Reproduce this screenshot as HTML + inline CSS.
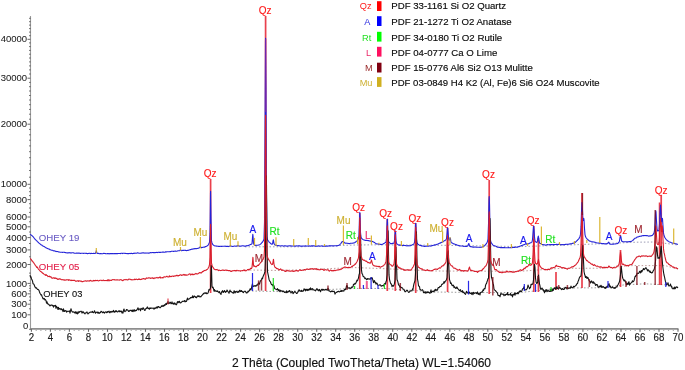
<!DOCTYPE html>
<html><head><meta charset="utf-8"><style>
html,body{margin:0;padding:0;background:#fff;width:685px;height:370px;overflow:hidden}
svg{display:block;will-change:transform}
</style></head><body>
<svg width="685" height="370" viewBox="0 0 685 370">
<g fill="none">
<line x1="30.5" y1="16" x2="30.5" y2="329" stroke="#9a9a9a" stroke-width="1.1"/>
<line x1="30" y1="328.9" x2="678.5" y2="328.9" stroke="#8e8e8e" stroke-width="1.7"/>
<line x1="31.4" y1="329" x2="31.4" y2="331.8" stroke="#6a6a6a" stroke-width="1.1"/>
<line x1="36.2" y1="329" x2="36.2" y2="330.9" stroke="#a8a8a8" stroke-width="1.1"/>
<line x1="40.9" y1="329" x2="40.9" y2="330.9" stroke="#a8a8a8" stroke-width="1.1"/>
<line x1="45.7" y1="329" x2="45.7" y2="330.9" stroke="#a8a8a8" stroke-width="1.1"/>
<line x1="50.4" y1="329" x2="50.4" y2="331.8" stroke="#6a6a6a" stroke-width="1.1"/>
<line x1="55.2" y1="329" x2="55.2" y2="330.9" stroke="#a8a8a8" stroke-width="1.1"/>
<line x1="59.9" y1="329" x2="59.9" y2="330.9" stroke="#a8a8a8" stroke-width="1.1"/>
<line x1="64.7" y1="329" x2="64.7" y2="330.9" stroke="#a8a8a8" stroke-width="1.1"/>
<line x1="69.4" y1="329" x2="69.4" y2="331.8" stroke="#6a6a6a" stroke-width="1.1"/>
<line x1="74.2" y1="329" x2="74.2" y2="330.9" stroke="#a8a8a8" stroke-width="1.1"/>
<line x1="78.9" y1="329" x2="78.9" y2="330.9" stroke="#a8a8a8" stroke-width="1.1"/>
<line x1="83.7" y1="329" x2="83.7" y2="330.9" stroke="#a8a8a8" stroke-width="1.1"/>
<line x1="88.5" y1="329" x2="88.5" y2="331.8" stroke="#6a6a6a" stroke-width="1.1"/>
<line x1="93.2" y1="329" x2="93.2" y2="330.9" stroke="#a8a8a8" stroke-width="1.1"/>
<line x1="98.0" y1="329" x2="98.0" y2="330.9" stroke="#a8a8a8" stroke-width="1.1"/>
<line x1="102.7" y1="329" x2="102.7" y2="330.9" stroke="#a8a8a8" stroke-width="1.1"/>
<line x1="107.5" y1="329" x2="107.5" y2="331.8" stroke="#6a6a6a" stroke-width="1.1"/>
<line x1="112.2" y1="329" x2="112.2" y2="330.9" stroke="#a8a8a8" stroke-width="1.1"/>
<line x1="117.0" y1="329" x2="117.0" y2="330.9" stroke="#a8a8a8" stroke-width="1.1"/>
<line x1="121.7" y1="329" x2="121.7" y2="330.9" stroke="#a8a8a8" stroke-width="1.1"/>
<line x1="126.5" y1="329" x2="126.5" y2="331.8" stroke="#6a6a6a" stroke-width="1.1"/>
<line x1="131.2" y1="329" x2="131.2" y2="330.9" stroke="#a8a8a8" stroke-width="1.1"/>
<line x1="136.0" y1="329" x2="136.0" y2="330.9" stroke="#a8a8a8" stroke-width="1.1"/>
<line x1="140.8" y1="329" x2="140.8" y2="330.9" stroke="#a8a8a8" stroke-width="1.1"/>
<line x1="145.5" y1="329" x2="145.5" y2="331.8" stroke="#6a6a6a" stroke-width="1.1"/>
<line x1="150.3" y1="329" x2="150.3" y2="330.9" stroke="#a8a8a8" stroke-width="1.1"/>
<line x1="155.0" y1="329" x2="155.0" y2="330.9" stroke="#a8a8a8" stroke-width="1.1"/>
<line x1="159.8" y1="329" x2="159.8" y2="330.9" stroke="#a8a8a8" stroke-width="1.1"/>
<line x1="164.5" y1="329" x2="164.5" y2="331.8" stroke="#6a6a6a" stroke-width="1.1"/>
<line x1="169.3" y1="329" x2="169.3" y2="330.9" stroke="#a8a8a8" stroke-width="1.1"/>
<line x1="174.0" y1="329" x2="174.0" y2="330.9" stroke="#a8a8a8" stroke-width="1.1"/>
<line x1="178.8" y1="329" x2="178.8" y2="330.9" stroke="#a8a8a8" stroke-width="1.1"/>
<line x1="183.5" y1="329" x2="183.5" y2="331.8" stroke="#6a6a6a" stroke-width="1.1"/>
<line x1="188.3" y1="329" x2="188.3" y2="330.9" stroke="#a8a8a8" stroke-width="1.1"/>
<line x1="193.1" y1="329" x2="193.1" y2="330.9" stroke="#a8a8a8" stroke-width="1.1"/>
<line x1="197.8" y1="329" x2="197.8" y2="330.9" stroke="#a8a8a8" stroke-width="1.1"/>
<line x1="202.6" y1="329" x2="202.6" y2="331.8" stroke="#6a6a6a" stroke-width="1.1"/>
<line x1="207.3" y1="329" x2="207.3" y2="330.9" stroke="#a8a8a8" stroke-width="1.1"/>
<line x1="212.1" y1="329" x2="212.1" y2="330.9" stroke="#a8a8a8" stroke-width="1.1"/>
<line x1="216.8" y1="329" x2="216.8" y2="330.9" stroke="#a8a8a8" stroke-width="1.1"/>
<line x1="221.6" y1="329" x2="221.6" y2="331.8" stroke="#6a6a6a" stroke-width="1.1"/>
<line x1="226.3" y1="329" x2="226.3" y2="330.9" stroke="#a8a8a8" stroke-width="1.1"/>
<line x1="231.1" y1="329" x2="231.1" y2="330.9" stroke="#a8a8a8" stroke-width="1.1"/>
<line x1="235.8" y1="329" x2="235.8" y2="330.9" stroke="#a8a8a8" stroke-width="1.1"/>
<line x1="240.6" y1="329" x2="240.6" y2="331.8" stroke="#6a6a6a" stroke-width="1.1"/>
<line x1="245.4" y1="329" x2="245.4" y2="330.9" stroke="#a8a8a8" stroke-width="1.1"/>
<line x1="250.1" y1="329" x2="250.1" y2="330.9" stroke="#a8a8a8" stroke-width="1.1"/>
<line x1="254.9" y1="329" x2="254.9" y2="330.9" stroke="#a8a8a8" stroke-width="1.1"/>
<line x1="259.6" y1="329" x2="259.6" y2="331.8" stroke="#6a6a6a" stroke-width="1.1"/>
<line x1="264.4" y1="329" x2="264.4" y2="330.9" stroke="#a8a8a8" stroke-width="1.1"/>
<line x1="269.1" y1="329" x2="269.1" y2="330.9" stroke="#a8a8a8" stroke-width="1.1"/>
<line x1="273.9" y1="329" x2="273.9" y2="330.9" stroke="#a8a8a8" stroke-width="1.1"/>
<line x1="278.6" y1="329" x2="278.6" y2="331.8" stroke="#6a6a6a" stroke-width="1.1"/>
<line x1="283.4" y1="329" x2="283.4" y2="330.9" stroke="#a8a8a8" stroke-width="1.1"/>
<line x1="288.1" y1="329" x2="288.1" y2="330.9" stroke="#a8a8a8" stroke-width="1.1"/>
<line x1="292.9" y1="329" x2="292.9" y2="330.9" stroke="#a8a8a8" stroke-width="1.1"/>
<line x1="297.7" y1="329" x2="297.7" y2="331.8" stroke="#6a6a6a" stroke-width="1.1"/>
<line x1="302.4" y1="329" x2="302.4" y2="330.9" stroke="#a8a8a8" stroke-width="1.1"/>
<line x1="307.2" y1="329" x2="307.2" y2="330.9" stroke="#a8a8a8" stroke-width="1.1"/>
<line x1="311.9" y1="329" x2="311.9" y2="330.9" stroke="#a8a8a8" stroke-width="1.1"/>
<line x1="316.7" y1="329" x2="316.7" y2="331.8" stroke="#6a6a6a" stroke-width="1.1"/>
<line x1="321.4" y1="329" x2="321.4" y2="330.9" stroke="#a8a8a8" stroke-width="1.1"/>
<line x1="326.2" y1="329" x2="326.2" y2="330.9" stroke="#a8a8a8" stroke-width="1.1"/>
<line x1="330.9" y1="329" x2="330.9" y2="330.9" stroke="#a8a8a8" stroke-width="1.1"/>
<line x1="335.7" y1="329" x2="335.7" y2="331.8" stroke="#6a6a6a" stroke-width="1.1"/>
<line x1="340.4" y1="329" x2="340.4" y2="330.9" stroke="#a8a8a8" stroke-width="1.1"/>
<line x1="345.2" y1="329" x2="345.2" y2="330.9" stroke="#a8a8a8" stroke-width="1.1"/>
<line x1="350.0" y1="329" x2="350.0" y2="330.9" stroke="#a8a8a8" stroke-width="1.1"/>
<line x1="354.7" y1="329" x2="354.7" y2="331.8" stroke="#6a6a6a" stroke-width="1.1"/>
<line x1="359.5" y1="329" x2="359.5" y2="330.9" stroke="#a8a8a8" stroke-width="1.1"/>
<line x1="364.2" y1="329" x2="364.2" y2="330.9" stroke="#a8a8a8" stroke-width="1.1"/>
<line x1="369.0" y1="329" x2="369.0" y2="330.9" stroke="#a8a8a8" stroke-width="1.1"/>
<line x1="373.7" y1="329" x2="373.7" y2="331.8" stroke="#6a6a6a" stroke-width="1.1"/>
<line x1="378.5" y1="329" x2="378.5" y2="330.9" stroke="#a8a8a8" stroke-width="1.1"/>
<line x1="383.2" y1="329" x2="383.2" y2="330.9" stroke="#a8a8a8" stroke-width="1.1"/>
<line x1="388.0" y1="329" x2="388.0" y2="330.9" stroke="#a8a8a8" stroke-width="1.1"/>
<line x1="392.7" y1="329" x2="392.7" y2="331.8" stroke="#6a6a6a" stroke-width="1.1"/>
<line x1="397.5" y1="329" x2="397.5" y2="330.9" stroke="#a8a8a8" stroke-width="1.1"/>
<line x1="402.3" y1="329" x2="402.3" y2="330.9" stroke="#a8a8a8" stroke-width="1.1"/>
<line x1="407.0" y1="329" x2="407.0" y2="330.9" stroke="#a8a8a8" stroke-width="1.1"/>
<line x1="411.8" y1="329" x2="411.8" y2="331.8" stroke="#6a6a6a" stroke-width="1.1"/>
<line x1="416.5" y1="329" x2="416.5" y2="330.9" stroke="#a8a8a8" stroke-width="1.1"/>
<line x1="421.3" y1="329" x2="421.3" y2="330.9" stroke="#a8a8a8" stroke-width="1.1"/>
<line x1="426.0" y1="329" x2="426.0" y2="330.9" stroke="#a8a8a8" stroke-width="1.1"/>
<line x1="430.8" y1="329" x2="430.8" y2="331.8" stroke="#6a6a6a" stroke-width="1.1"/>
<line x1="435.5" y1="329" x2="435.5" y2="330.9" stroke="#a8a8a8" stroke-width="1.1"/>
<line x1="440.3" y1="329" x2="440.3" y2="330.9" stroke="#a8a8a8" stroke-width="1.1"/>
<line x1="445.0" y1="329" x2="445.0" y2="330.9" stroke="#a8a8a8" stroke-width="1.1"/>
<line x1="449.8" y1="329" x2="449.8" y2="331.8" stroke="#6a6a6a" stroke-width="1.1"/>
<line x1="454.6" y1="329" x2="454.6" y2="330.9" stroke="#a8a8a8" stroke-width="1.1"/>
<line x1="459.3" y1="329" x2="459.3" y2="330.9" stroke="#a8a8a8" stroke-width="1.1"/>
<line x1="464.1" y1="329" x2="464.1" y2="330.9" stroke="#a8a8a8" stroke-width="1.1"/>
<line x1="468.8" y1="329" x2="468.8" y2="331.8" stroke="#6a6a6a" stroke-width="1.1"/>
<line x1="473.6" y1="329" x2="473.6" y2="330.9" stroke="#a8a8a8" stroke-width="1.1"/>
<line x1="478.3" y1="329" x2="478.3" y2="330.9" stroke="#a8a8a8" stroke-width="1.1"/>
<line x1="483.1" y1="329" x2="483.1" y2="330.9" stroke="#a8a8a8" stroke-width="1.1"/>
<line x1="487.8" y1="329" x2="487.8" y2="331.8" stroke="#6a6a6a" stroke-width="1.1"/>
<line x1="492.6" y1="329" x2="492.6" y2="330.9" stroke="#a8a8a8" stroke-width="1.1"/>
<line x1="497.3" y1="329" x2="497.3" y2="330.9" stroke="#a8a8a8" stroke-width="1.1"/>
<line x1="502.1" y1="329" x2="502.1" y2="330.9" stroke="#a8a8a8" stroke-width="1.1"/>
<line x1="506.9" y1="329" x2="506.9" y2="331.8" stroke="#6a6a6a" stroke-width="1.1"/>
<line x1="511.6" y1="329" x2="511.6" y2="330.9" stroke="#a8a8a8" stroke-width="1.1"/>
<line x1="516.4" y1="329" x2="516.4" y2="330.9" stroke="#a8a8a8" stroke-width="1.1"/>
<line x1="521.1" y1="329" x2="521.1" y2="330.9" stroke="#a8a8a8" stroke-width="1.1"/>
<line x1="525.9" y1="329" x2="525.9" y2="331.8" stroke="#6a6a6a" stroke-width="1.1"/>
<line x1="530.6" y1="329" x2="530.6" y2="330.9" stroke="#a8a8a8" stroke-width="1.1"/>
<line x1="535.4" y1="329" x2="535.4" y2="330.9" stroke="#a8a8a8" stroke-width="1.1"/>
<line x1="540.1" y1="329" x2="540.1" y2="330.9" stroke="#a8a8a8" stroke-width="1.1"/>
<line x1="544.9" y1="329" x2="544.9" y2="331.8" stroke="#6a6a6a" stroke-width="1.1"/>
<line x1="549.6" y1="329" x2="549.6" y2="330.9" stroke="#a8a8a8" stroke-width="1.1"/>
<line x1="554.4" y1="329" x2="554.4" y2="330.9" stroke="#a8a8a8" stroke-width="1.1"/>
<line x1="559.1" y1="329" x2="559.1" y2="330.9" stroke="#a8a8a8" stroke-width="1.1"/>
<line x1="563.9" y1="329" x2="563.9" y2="331.8" stroke="#6a6a6a" stroke-width="1.1"/>
<line x1="568.7" y1="329" x2="568.7" y2="330.9" stroke="#a8a8a8" stroke-width="1.1"/>
<line x1="573.4" y1="329" x2="573.4" y2="330.9" stroke="#a8a8a8" stroke-width="1.1"/>
<line x1="578.2" y1="329" x2="578.2" y2="330.9" stroke="#a8a8a8" stroke-width="1.1"/>
<line x1="582.9" y1="329" x2="582.9" y2="331.8" stroke="#6a6a6a" stroke-width="1.1"/>
<line x1="587.7" y1="329" x2="587.7" y2="330.9" stroke="#a8a8a8" stroke-width="1.1"/>
<line x1="592.4" y1="329" x2="592.4" y2="330.9" stroke="#a8a8a8" stroke-width="1.1"/>
<line x1="597.2" y1="329" x2="597.2" y2="330.9" stroke="#a8a8a8" stroke-width="1.1"/>
<line x1="601.9" y1="329" x2="601.9" y2="331.8" stroke="#6a6a6a" stroke-width="1.1"/>
<line x1="606.7" y1="329" x2="606.7" y2="330.9" stroke="#a8a8a8" stroke-width="1.1"/>
<line x1="611.4" y1="329" x2="611.4" y2="330.9" stroke="#a8a8a8" stroke-width="1.1"/>
<line x1="616.2" y1="329" x2="616.2" y2="330.9" stroke="#a8a8a8" stroke-width="1.1"/>
<line x1="621.0" y1="329" x2="621.0" y2="331.8" stroke="#6a6a6a" stroke-width="1.1"/>
<line x1="625.7" y1="329" x2="625.7" y2="330.9" stroke="#a8a8a8" stroke-width="1.1"/>
<line x1="630.5" y1="329" x2="630.5" y2="330.9" stroke="#a8a8a8" stroke-width="1.1"/>
<line x1="635.2" y1="329" x2="635.2" y2="330.9" stroke="#a8a8a8" stroke-width="1.1"/>
<line x1="640.0" y1="329" x2="640.0" y2="331.8" stroke="#6a6a6a" stroke-width="1.1"/>
<line x1="644.7" y1="329" x2="644.7" y2="330.9" stroke="#a8a8a8" stroke-width="1.1"/>
<line x1="649.5" y1="329" x2="649.5" y2="330.9" stroke="#a8a8a8" stroke-width="1.1"/>
<line x1="654.2" y1="329" x2="654.2" y2="330.9" stroke="#a8a8a8" stroke-width="1.1"/>
<line x1="659.0" y1="329" x2="659.0" y2="331.8" stroke="#6a6a6a" stroke-width="1.1"/>
<line x1="663.7" y1="329" x2="663.7" y2="330.9" stroke="#a8a8a8" stroke-width="1.1"/>
<line x1="668.5" y1="329" x2="668.5" y2="330.9" stroke="#a8a8a8" stroke-width="1.1"/>
<line x1="673.3" y1="329" x2="673.3" y2="330.9" stroke="#a8a8a8" stroke-width="1.1"/>
<line x1="678.0" y1="329" x2="678.0" y2="331.8" stroke="#6a6a6a" stroke-width="1.1"/>
<line x1="27.5" y1="314.8" x2="30.5" y2="314.8" stroke="#6a6a6a" stroke-width="1"/>
<line x1="27.5" y1="304.2" x2="30.5" y2="304.2" stroke="#6a6a6a" stroke-width="1"/>
<line x1="27.5" y1="293.8" x2="30.5" y2="293.8" stroke="#6a6a6a" stroke-width="1"/>
<line x1="27.5" y1="283.4" x2="30.5" y2="283.4" stroke="#6a6a6a" stroke-width="1"/>
<line x1="27.5" y1="264.5" x2="30.5" y2="264.5" stroke="#6a6a6a" stroke-width="1"/>
<line x1="27.5" y1="249.9" x2="30.5" y2="249.9" stroke="#6a6a6a" stroke-width="1"/>
<line x1="27.5" y1="237.6" x2="30.5" y2="237.6" stroke="#6a6a6a" stroke-width="1"/>
<line x1="27.5" y1="226.8" x2="30.5" y2="226.8" stroke="#6a6a6a" stroke-width="1"/>
<line x1="27.5" y1="217.0" x2="30.5" y2="217.0" stroke="#6a6a6a" stroke-width="1"/>
<line x1="27.5" y1="199.6" x2="30.5" y2="199.6" stroke="#6a6a6a" stroke-width="1"/>
<line x1="27.5" y1="184.3" x2="30.5" y2="184.3" stroke="#6a6a6a" stroke-width="1"/>
<line x1="27.5" y1="124.2" x2="30.5" y2="124.2" stroke="#6a6a6a" stroke-width="1"/>
<line x1="27.5" y1="78.2" x2="30.5" y2="78.2" stroke="#6a6a6a" stroke-width="1"/>
<line x1="27.5" y1="39.3" x2="30.5" y2="39.3" stroke="#6a6a6a" stroke-width="1"/>
<line x1="29.2" y1="329.3" x2="30.6" y2="329.3" stroke="#555" stroke-width="1"/>
<line x1="29.2" y1="308.8" x2="30.6" y2="308.8" stroke="#555" stroke-width="1"/>
<line x1="29.2" y1="300.3" x2="30.6" y2="300.3" stroke="#555" stroke-width="1"/>
<line x1="29.2" y1="296.9" x2="30.6" y2="296.9" stroke="#555" stroke-width="1"/>
<line x1="29.2" y1="290.9" x2="30.6" y2="290.9" stroke="#555" stroke-width="1"/>
<line x1="29.2" y1="288.3" x2="30.6" y2="288.3" stroke="#555" stroke-width="1"/>
<line x1="29.2" y1="285.8" x2="30.6" y2="285.8" stroke="#555" stroke-width="1"/>
<line x1="29.2" y1="273.1" x2="30.6" y2="273.1" stroke="#555" stroke-width="1"/>
<line x1="29.2" y1="256.8" x2="30.6" y2="256.8" stroke="#555" stroke-width="1"/>
<line x1="29.2" y1="243.5" x2="30.6" y2="243.5" stroke="#555" stroke-width="1"/>
<line x1="29.2" y1="232.0" x2="30.6" y2="232.0" stroke="#555" stroke-width="1"/>
<line x1="29.2" y1="221.8" x2="30.6" y2="221.8" stroke="#555" stroke-width="1"/>
<line x1="29.2" y1="212.4" x2="30.6" y2="212.4" stroke="#555" stroke-width="1"/>
<line x1="29.2" y1="208.0" x2="30.6" y2="208.0" stroke="#555" stroke-width="1"/>
<line x1="29.2" y1="203.7" x2="30.6" y2="203.7" stroke="#555" stroke-width="1"/>
<line x1="29.2" y1="195.6" x2="30.6" y2="195.6" stroke="#555" stroke-width="1"/>
<line x1="29.2" y1="191.7" x2="30.6" y2="191.7" stroke="#555" stroke-width="1"/>
<line x1="29.2" y1="188.0" x2="30.6" y2="188.0" stroke="#555" stroke-width="1"/>
<line x1="29.2" y1="177.2" x2="30.6" y2="177.2" stroke="#555" stroke-width="1"/>
<line x1="29.2" y1="170.5" x2="30.6" y2="170.5" stroke="#555" stroke-width="1"/>
<line x1="29.2" y1="164.0" x2="30.6" y2="164.0" stroke="#555" stroke-width="1"/>
<line x1="29.2" y1="157.7" x2="30.6" y2="157.7" stroke="#555" stroke-width="1"/>
<line x1="29.2" y1="151.7" x2="30.6" y2="151.7" stroke="#555" stroke-width="1"/>
<line x1="29.2" y1="145.9" x2="30.6" y2="145.9" stroke="#555" stroke-width="1"/>
<line x1="29.2" y1="140.2" x2="30.6" y2="140.2" stroke="#555" stroke-width="1"/>
<line x1="29.2" y1="134.8" x2="30.6" y2="134.8" stroke="#555" stroke-width="1"/>
<line x1="29.2" y1="129.4" x2="30.6" y2="129.4" stroke="#555" stroke-width="1"/>
<line x1="29.2" y1="119.2" x2="30.6" y2="119.2" stroke="#555" stroke-width="1"/>
<line x1="29.2" y1="114.2" x2="30.6" y2="114.2" stroke="#555" stroke-width="1"/>
<line x1="29.2" y1="109.4" x2="30.6" y2="109.4" stroke="#555" stroke-width="1"/>
<line x1="29.2" y1="104.7" x2="30.6" y2="104.7" stroke="#555" stroke-width="1"/>
<line x1="29.2" y1="100.0" x2="30.6" y2="100.0" stroke="#555" stroke-width="1"/>
<line x1="29.2" y1="95.5" x2="30.6" y2="95.5" stroke="#555" stroke-width="1"/>
<line x1="29.2" y1="91.0" x2="30.6" y2="91.0" stroke="#555" stroke-width="1"/>
<line x1="29.2" y1="86.7" x2="30.6" y2="86.7" stroke="#555" stroke-width="1"/>
<line x1="29.2" y1="82.4" x2="30.6" y2="82.4" stroke="#555" stroke-width="1"/>
<line x1="29.2" y1="74.0" x2="30.6" y2="74.0" stroke="#555" stroke-width="1"/>
<line x1="29.2" y1="69.9" x2="30.6" y2="69.9" stroke="#555" stroke-width="1"/>
<line x1="29.2" y1="65.9" x2="30.6" y2="65.9" stroke="#555" stroke-width="1"/>
<line x1="29.2" y1="61.9" x2="30.6" y2="61.9" stroke="#555" stroke-width="1"/>
<line x1="29.2" y1="58.0" x2="30.6" y2="58.0" stroke="#555" stroke-width="1"/>
<line x1="29.2" y1="54.2" x2="30.6" y2="54.2" stroke="#555" stroke-width="1"/>
<line x1="29.2" y1="50.4" x2="30.6" y2="50.4" stroke="#555" stroke-width="1"/>
<line x1="29.2" y1="46.6" x2="30.6" y2="46.6" stroke="#555" stroke-width="1"/>
<line x1="29.2" y1="42.9" x2="30.6" y2="42.9" stroke="#555" stroke-width="1"/>
<line x1="29.2" y1="35.7" x2="30.6" y2="35.7" stroke="#555" stroke-width="1"/>
<line x1="29.2" y1="32.1" x2="30.6" y2="32.1" stroke="#555" stroke-width="1"/>
<line x1="29.2" y1="28.6" x2="30.6" y2="28.6" stroke="#555" stroke-width="1"/>
<line x1="29.2" y1="25.1" x2="30.6" y2="25.1" stroke="#555" stroke-width="1"/>
<line x1="29.2" y1="21.7" x2="30.6" y2="21.7" stroke="#555" stroke-width="1"/>
<line x1="29.2" y1="18.3" x2="30.6" y2="18.3" stroke="#555" stroke-width="1"/>
</g>
<text font-family="Liberation Sans, sans-serif" font-size="9.5" fill="#1a1a1a" stroke="#1a1a1a" stroke-width="0.05" x="11.22" y="317.90" textLength="15.85" lengthAdjust="spacingAndGlyphs">100</text>
<text font-family="Liberation Sans, sans-serif" font-size="9.5" fill="#1a1a1a" stroke="#1a1a1a" stroke-width="0.05" x="11.21" y="307.29" textLength="15.85" lengthAdjust="spacingAndGlyphs">300</text>
<text font-family="Liberation Sans, sans-serif" font-size="9.5" fill="#1a1a1a" stroke="#1a1a1a" stroke-width="0.05" x="11.22" y="296.88" textLength="15.85" lengthAdjust="spacingAndGlyphs">600</text>
<text font-family="Liberation Sans, sans-serif" font-size="9.5" fill="#1a1a1a" stroke="#1a1a1a" stroke-width="0.05" x="5.93" y="286.55" textLength="21.13" lengthAdjust="spacingAndGlyphs">1000</text>
<text font-family="Liberation Sans, sans-serif" font-size="9.5" fill="#1a1a1a" stroke="#1a1a1a" stroke-width="0.05" x="5.93" y="267.55" textLength="21.13" lengthAdjust="spacingAndGlyphs">2000</text>
<text font-family="Liberation Sans, sans-serif" font-size="9.5" fill="#1a1a1a" stroke="#1a1a1a" stroke-width="0.05" x="5.93" y="252.98" textLength="21.13" lengthAdjust="spacingAndGlyphs">3000</text>
<text font-family="Liberation Sans, sans-serif" font-size="9.5" fill="#1a1a1a" stroke="#1a1a1a" stroke-width="0.05" x="5.93" y="240.69" textLength="21.13" lengthAdjust="spacingAndGlyphs">4000</text>
<text font-family="Liberation Sans, sans-serif" font-size="9.5" fill="#1a1a1a" stroke="#1a1a1a" stroke-width="0.05" x="5.93" y="229.87" textLength="21.13" lengthAdjust="spacingAndGlyphs">5000</text>
<text font-family="Liberation Sans, sans-serif" font-size="9.5" fill="#1a1a1a" stroke="#1a1a1a" stroke-width="0.05" x="5.93" y="220.08" textLength="21.13" lengthAdjust="spacingAndGlyphs">6000</text>
<text font-family="Liberation Sans, sans-serif" font-size="9.5" fill="#1a1a1a" stroke="#1a1a1a" stroke-width="0.05" x="5.93" y="202.71" textLength="21.13" lengthAdjust="spacingAndGlyphs">8000</text>
<text font-family="Liberation Sans, sans-serif" font-size="9.5" fill="#1a1a1a" stroke="#1a1a1a" stroke-width="0.05" x="0.64" y="187.40" textLength="26.42" lengthAdjust="spacingAndGlyphs">10000</text>
<text font-family="Liberation Sans, sans-serif" font-size="9.5" fill="#1a1a1a" stroke="#1a1a1a" stroke-width="0.05" x="0.64" y="127.34" textLength="26.42" lengthAdjust="spacingAndGlyphs">20000</text>
<text font-family="Liberation Sans, sans-serif" font-size="9.5" fill="#1a1a1a" stroke="#1a1a1a" stroke-width="0.05" x="0.64" y="81.25" textLength="26.42" lengthAdjust="spacingAndGlyphs">30000</text>
<text font-family="Liberation Sans, sans-serif" font-size="9.5" fill="#1a1a1a" stroke="#1a1a1a" stroke-width="0.05" x="0.64" y="42.40" textLength="26.42" lengthAdjust="spacingAndGlyphs">40000</text>
<text font-family="Liberation Sans, sans-serif" font-size="9.5" fill="#1a1a1a" stroke="#1a1a1a" stroke-width="0.05" x="23.08" y="329.10" textLength="5.28" lengthAdjust="spacingAndGlyphs">0</text>
<text font-family="Liberation Sans, sans-serif" font-size="10" fill="#1a1a1a" stroke="#1a1a1a" stroke-width="0.15" x="28.70" y="340.50" textLength="5.39" lengthAdjust="spacingAndGlyphs">2</text>
<text font-family="Liberation Sans, sans-serif" font-size="10" fill="#1a1a1a" stroke="#1a1a1a" stroke-width="0.15" x="47.76" y="340.50" textLength="5.39" lengthAdjust="spacingAndGlyphs">4</text>
<text font-family="Liberation Sans, sans-serif" font-size="10" fill="#1a1a1a" stroke="#1a1a1a" stroke-width="0.15" x="66.71" y="340.50" textLength="5.39" lengthAdjust="spacingAndGlyphs">6</text>
<text font-family="Liberation Sans, sans-serif" font-size="10" fill="#1a1a1a" stroke="#1a1a1a" stroke-width="0.15" x="85.76" y="340.50" textLength="5.39" lengthAdjust="spacingAndGlyphs">8</text>
<text font-family="Liberation Sans, sans-serif" font-size="10" fill="#1a1a1a" stroke="#1a1a1a" stroke-width="0.15" x="101.89" y="340.50" textLength="10.79" lengthAdjust="spacingAndGlyphs">10</text>
<text font-family="Liberation Sans, sans-serif" font-size="10" fill="#1a1a1a" stroke="#1a1a1a" stroke-width="0.15" x="120.97" y="340.50" textLength="10.79" lengthAdjust="spacingAndGlyphs">12</text>
<text font-family="Liberation Sans, sans-serif" font-size="10" fill="#1a1a1a" stroke="#1a1a1a" stroke-width="0.15" x="139.89" y="340.50" textLength="10.79" lengthAdjust="spacingAndGlyphs">14</text>
<text font-family="Liberation Sans, sans-serif" font-size="10" fill="#1a1a1a" stroke="#1a1a1a" stroke-width="0.15" x="158.97" y="340.50" textLength="10.79" lengthAdjust="spacingAndGlyphs">16</text>
<text font-family="Liberation Sans, sans-serif" font-size="10" fill="#1a1a1a" stroke="#1a1a1a" stroke-width="0.15" x="177.99" y="340.50" textLength="10.79" lengthAdjust="spacingAndGlyphs">18</text>
<text font-family="Liberation Sans, sans-serif" font-size="10" fill="#1a1a1a" stroke="#1a1a1a" stroke-width="0.15" x="197.11" y="340.50" textLength="10.79" lengthAdjust="spacingAndGlyphs">20</text>
<text font-family="Liberation Sans, sans-serif" font-size="10" fill="#1a1a1a" stroke="#1a1a1a" stroke-width="0.15" x="216.19" y="340.50" textLength="10.79" lengthAdjust="spacingAndGlyphs">22</text>
<text font-family="Liberation Sans, sans-serif" font-size="10" fill="#1a1a1a" stroke="#1a1a1a" stroke-width="0.15" x="235.10" y="340.50" textLength="10.79" lengthAdjust="spacingAndGlyphs">24</text>
<text font-family="Liberation Sans, sans-serif" font-size="10" fill="#1a1a1a" stroke="#1a1a1a" stroke-width="0.15" x="254.19" y="340.50" textLength="10.79" lengthAdjust="spacingAndGlyphs">26</text>
<text font-family="Liberation Sans, sans-serif" font-size="10" fill="#1a1a1a" stroke="#1a1a1a" stroke-width="0.15" x="273.21" y="340.50" textLength="10.79" lengthAdjust="spacingAndGlyphs">28</text>
<text font-family="Liberation Sans, sans-serif" font-size="10" fill="#1a1a1a" stroke="#1a1a1a" stroke-width="0.15" x="292.26" y="340.50" textLength="10.79" lengthAdjust="spacingAndGlyphs">30</text>
<text font-family="Liberation Sans, sans-serif" font-size="10" fill="#1a1a1a" stroke="#1a1a1a" stroke-width="0.15" x="311.33" y="340.50" textLength="10.79" lengthAdjust="spacingAndGlyphs">32</text>
<text font-family="Liberation Sans, sans-serif" font-size="10" fill="#1a1a1a" stroke="#1a1a1a" stroke-width="0.15" x="330.25" y="340.50" textLength="10.79" lengthAdjust="spacingAndGlyphs">34</text>
<text font-family="Liberation Sans, sans-serif" font-size="10" fill="#1a1a1a" stroke="#1a1a1a" stroke-width="0.15" x="349.34" y="340.50" textLength="10.79" lengthAdjust="spacingAndGlyphs">36</text>
<text font-family="Liberation Sans, sans-serif" font-size="10" fill="#1a1a1a" stroke="#1a1a1a" stroke-width="0.15" x="368.36" y="340.50" textLength="10.79" lengthAdjust="spacingAndGlyphs">38</text>
<text font-family="Liberation Sans, sans-serif" font-size="10" fill="#1a1a1a" stroke="#1a1a1a" stroke-width="0.15" x="387.43" y="340.50" textLength="10.79" lengthAdjust="spacingAndGlyphs">40</text>
<text font-family="Liberation Sans, sans-serif" font-size="10" fill="#1a1a1a" stroke="#1a1a1a" stroke-width="0.15" x="406.50" y="340.50" textLength="10.79" lengthAdjust="spacingAndGlyphs">42</text>
<text font-family="Liberation Sans, sans-serif" font-size="10" fill="#1a1a1a" stroke="#1a1a1a" stroke-width="0.15" x="425.42" y="340.50" textLength="10.79" lengthAdjust="spacingAndGlyphs">44</text>
<text font-family="Liberation Sans, sans-serif" font-size="10" fill="#1a1a1a" stroke="#1a1a1a" stroke-width="0.15" x="444.50" y="340.50" textLength="10.79" lengthAdjust="spacingAndGlyphs">46</text>
<text font-family="Liberation Sans, sans-serif" font-size="10" fill="#1a1a1a" stroke="#1a1a1a" stroke-width="0.15" x="463.52" y="340.50" textLength="10.79" lengthAdjust="spacingAndGlyphs">48</text>
<text font-family="Liberation Sans, sans-serif" font-size="10" fill="#1a1a1a" stroke="#1a1a1a" stroke-width="0.15" x="482.43" y="340.50" textLength="10.79" lengthAdjust="spacingAndGlyphs">50</text>
<text font-family="Liberation Sans, sans-serif" font-size="10" fill="#1a1a1a" stroke="#1a1a1a" stroke-width="0.15" x="501.51" y="340.50" textLength="10.79" lengthAdjust="spacingAndGlyphs">52</text>
<text font-family="Liberation Sans, sans-serif" font-size="10" fill="#1a1a1a" stroke="#1a1a1a" stroke-width="0.15" x="520.42" y="340.50" textLength="10.79" lengthAdjust="spacingAndGlyphs">54</text>
<text font-family="Liberation Sans, sans-serif" font-size="10" fill="#1a1a1a" stroke="#1a1a1a" stroke-width="0.15" x="539.51" y="340.50" textLength="10.79" lengthAdjust="spacingAndGlyphs">56</text>
<text font-family="Liberation Sans, sans-serif" font-size="10" fill="#1a1a1a" stroke="#1a1a1a" stroke-width="0.15" x="558.53" y="340.50" textLength="10.79" lengthAdjust="spacingAndGlyphs">58</text>
<text font-family="Liberation Sans, sans-serif" font-size="10" fill="#1a1a1a" stroke="#1a1a1a" stroke-width="0.15" x="577.47" y="340.50" textLength="10.79" lengthAdjust="spacingAndGlyphs">60</text>
<text font-family="Liberation Sans, sans-serif" font-size="10" fill="#1a1a1a" stroke="#1a1a1a" stroke-width="0.15" x="596.55" y="340.50" textLength="10.79" lengthAdjust="spacingAndGlyphs">62</text>
<text font-family="Liberation Sans, sans-serif" font-size="10" fill="#1a1a1a" stroke="#1a1a1a" stroke-width="0.15" x="615.46" y="340.50" textLength="10.79" lengthAdjust="spacingAndGlyphs">64</text>
<text font-family="Liberation Sans, sans-serif" font-size="10" fill="#1a1a1a" stroke="#1a1a1a" stroke-width="0.15" x="634.55" y="340.50" textLength="10.79" lengthAdjust="spacingAndGlyphs">66</text>
<text font-family="Liberation Sans, sans-serif" font-size="10" fill="#1a1a1a" stroke="#1a1a1a" stroke-width="0.15" x="653.57" y="340.50" textLength="10.79" lengthAdjust="spacingAndGlyphs">68</text>
<text font-family="Liberation Sans, sans-serif" font-size="10" fill="#1a1a1a" stroke="#1a1a1a" stroke-width="0.15" x="672.56" y="340.50" textLength="10.79" lengthAdjust="spacingAndGlyphs">70</text>
<text font-family="Liberation Sans, sans-serif" font-size="12" fill="#111111" stroke="#111111" stroke-width="0.15" x="231.90" y="366.60" textLength="259.17" lengthAdjust="spacingAndGlyphs">2 Thêta (Coupled TwoTheta/Theta) WL=1.54060</text>
<text font-family="Liberation Sans, sans-serif" font-size="9.7" fill="#ff1a1a" x="359.87" y="9.00" textLength="11.78" lengthAdjust="spacingAndGlyphs">Qz</text>
<rect x="377" y="1.2" width="4.5" height="9.8" fill="#ff0000"/>
<text font-family="Liberation Sans, sans-serif" font-size="9.7" fill="#0a0a0a" stroke="#0a0a0a" stroke-width="0.15" x="391.31" y="9.00" textLength="114.76" lengthAdjust="spacingAndGlyphs">PDF 33-1161 Si O2 Quartz</text>
<text font-family="Liberation Sans, sans-serif" font-size="9.7" fill="#2a2ae0" x="364.27" y="24.90" textLength="6.15" lengthAdjust="spacingAndGlyphs">A</text>
<rect x="377" y="16.2" width="4.5" height="9.8" fill="#0000ff"/>
<text font-family="Liberation Sans, sans-serif" font-size="9.7" fill="#0a0a0a" stroke="#0a0a0a" stroke-width="0.15" x="391.31" y="24.90" textLength="120.42" lengthAdjust="spacingAndGlyphs">PDF 21-1272 Ti O2 Anatase</text>
<text font-family="Liberation Sans, sans-serif" font-size="9.7" fill="#22e022" x="362.05" y="41.00" textLength="9.21" lengthAdjust="spacingAndGlyphs">Rt</text>
<rect x="377" y="31.8" width="4.5" height="9.8" fill="#00ff00"/>
<text font-family="Liberation Sans, sans-serif" font-size="9.7" fill="#0a0a0a" stroke="#0a0a0a" stroke-width="0.15" x="391.31" y="41.00" textLength="110.92" lengthAdjust="spacingAndGlyphs">PDF 34-0180 Ti O2 Rutile</text>
<text font-family="Liberation Sans, sans-serif" font-size="9.7" fill="#ea2a6a" x="365.88" y="56.00" textLength="5.12" lengthAdjust="spacingAndGlyphs">L</text>
<rect x="377" y="46.8" width="4.5" height="9.8" fill="#ff1060"/>
<text font-family="Liberation Sans, sans-serif" font-size="9.7" fill="#0a0a0a" stroke="#0a0a0a" stroke-width="0.15" x="391.31" y="56.00" textLength="106.11" lengthAdjust="spacingAndGlyphs">PDF 04-0777 Ca O Lime</text>
<text font-family="Liberation Sans, sans-serif" font-size="9.7" fill="#9a2a2a" x="364.98" y="70.90" textLength="7.68" lengthAdjust="spacingAndGlyphs">M</text>
<rect x="377" y="62.7" width="4.5" height="9.8" fill="#800010"/>
<text font-family="Liberation Sans, sans-serif" font-size="9.7" fill="#0a0a0a" stroke="#0a0a0a" stroke-width="0.15" x="391.31" y="70.90" textLength="141.51" lengthAdjust="spacingAndGlyphs">PDF 15-0776 Al6 Si2 O13 Mulitte</text>
<text font-family="Liberation Sans, sans-serif" font-size="9.7" fill="#cdb030" x="359.71" y="85.80" textLength="12.80" lengthAdjust="spacingAndGlyphs">Mu</text>
<rect x="377" y="77.1" width="4.5" height="9.8" fill="#d0b020"/>
<text font-family="Liberation Sans, sans-serif" font-size="9.7" fill="#0a0a0a" stroke="#0a0a0a" stroke-width="0.15" x="391.32" y="85.80" textLength="208.31" lengthAdjust="spacingAndGlyphs">PDF 03-0849 H4 K2 (Al, Fe)6 Si6 O24 Muscovite</text>
<polyline points="245.0,246.8 300.0,246.8 355.0,245.0 380.0,244.8 445.0,245.3 520.0,246.6 560.0,245.3 600.0,243.8 636.0,242.2 655.0,242.0 678.0,245.0" fill="none" stroke="#8080a0" stroke-width="0.8" stroke-dasharray="1.5,2"/>
<polyline points="250.0,270.0 280.0,270.5 355.0,267.6 380.0,268.5 435.0,271.0 520.0,271.3 560.0,268.4 600.0,268.2 632.0,265.6 665.0,265.6 678.0,269.0" fill="none" stroke="#b08080" stroke-width="0.8" stroke-dasharray="1.5,2"/>
<polyline points="252.0,291.0 280.0,291.6 355.0,288.4 385.0,288.5 435.0,292.0 470.0,292.5 520.0,292.6 560.0,288.0 600.0,287.8 625.0,284.8 645.0,283.8 665.0,284.8 678.0,288.3" fill="none" stroke="#808080" stroke-width="0.8" stroke-dasharray="1.5,2"/>
<line x1="210.6" y1="179" x2="210.6" y2="293" stroke="rgba(228,22,38,0.82)" stroke-width="1.7"/>
<line x1="265.6" y1="16" x2="265.6" y2="291" stroke="rgba(228,22,38,0.82)" stroke-width="1.7"/>
<line x1="359.8" y1="213" x2="359.8" y2="289" stroke="rgba(228,22,38,0.82)" stroke-width="1.7"/>
<line x1="387.3" y1="219" x2="387.3" y2="291" stroke="rgba(228,22,38,0.82)" stroke-width="1.7"/>
<line x1="395.3" y1="231" x2="395.3" y2="291" stroke="rgba(228,22,38,0.82)" stroke-width="1.7"/>
<line x1="415.7" y1="223" x2="415.7" y2="293" stroke="rgba(228,22,38,0.82)" stroke-width="1.7"/>
<line x1="447.6" y1="228" x2="447.6" y2="292" stroke="rgba(228,22,38,0.82)" stroke-width="1.7"/>
<line x1="489.2" y1="180" x2="489.2" y2="294" stroke="rgba(228,22,38,0.82)" stroke-width="1.7"/>
<line x1="533.8" y1="226" x2="533.8" y2="292" stroke="rgba(228,22,38,0.82)" stroke-width="1.7"/>
<line x1="538.4" y1="238" x2="538.4" y2="292" stroke="rgba(228,22,38,0.82)" stroke-width="1.7"/>
<line x1="556.0" y1="272" x2="556.0" y2="290" stroke="rgba(228,22,38,0.82)" stroke-width="1.7"/>
<line x1="582.0" y1="193" x2="582.0" y2="288" stroke="rgba(228,22,38,0.82)" stroke-width="1.7"/>
<line x1="620.5" y1="250" x2="620.5" y2="287" stroke="rgba(228,22,38,0.82)" stroke-width="1.7"/>
<line x1="659.6" y1="202.5" x2="659.6" y2="285" stroke="rgba(228,22,38,0.82)" stroke-width="1.7"/>
<line x1="661.2" y1="194.8" x2="661.2" y2="285" stroke="rgba(228,22,38,0.82)" stroke-width="1.7"/>
<g>
<polyline points="30.0,234.1 30.5,234.6 31.0,234.9 31.5,235.2 32.0,235.6 32.5,236.2 33.0,236.7 33.5,237.2 34.0,237.9 34.5,238.5 35.0,239.2 35.5,239.6 36.0,240.2 36.5,240.7 37.0,241.0 37.5,241.6 38.0,242.1 38.5,242.8 39.0,243.1 39.5,243.4 40.0,243.9 40.5,244.3 41.0,244.7 41.5,244.9 42.0,245.3 42.5,245.7 43.0,246.0 43.5,246.3 44.0,246.5 44.5,246.8 45.0,247.1 45.5,247.5 46.0,247.8 46.5,248.1 47.0,248.3 47.5,248.6 48.0,248.8 48.5,248.9 49.0,249.1 49.5,249.3 50.0,249.7 50.5,249.8 51.0,250.1 51.5,250.3 52.0,250.3 52.5,250.3 53.0,250.6 53.5,250.7 54.0,251.0 54.5,250.9 55.0,251.0 55.5,251.3 56.0,251.6 56.5,251.5 57.0,251.4 57.5,251.6 58.0,251.8 58.5,251.9 59.0,252.0 59.5,252.0 60.0,252.2 60.5,252.3 61.0,252.3 61.5,252.2 62.0,252.2 62.5,252.4 63.0,252.2 63.5,252.3 64.0,252.3 64.5,252.4 65.0,252.5 65.5,252.6 66.0,252.8 66.5,252.8 67.0,253.0 67.5,252.9 68.0,252.9 68.5,252.9 69.0,252.6 69.5,252.8 70.0,252.9 70.5,252.8 71.0,253.0 71.5,252.9 72.0,252.7 72.5,252.8 73.0,252.8 73.5,252.9 74.0,253.0 74.5,253.2 75.0,253.2 75.5,253.2 76.0,253.2 76.5,253.0 77.0,253.2 77.5,253.1 78.0,253.2 78.5,253.1 79.0,253.1 79.5,253.1 80.0,253.4 80.5,253.5 81.0,253.3 81.5,253.3 82.0,253.2 82.5,253.2 83.0,253.2 83.5,253.4 84.0,253.2 84.5,253.2 85.0,253.2 85.5,253.2 86.0,253.4 86.5,253.4 87.0,253.5 87.5,253.6 88.0,253.6 88.5,253.4 89.0,253.5 89.5,253.3 90.0,253.3 90.5,253.6 91.0,253.5 91.5,253.4 92.0,253.5 92.5,253.5 93.0,253.5 93.5,253.3 94.0,253.5 94.5,253.5 95.0,253.4 95.5,253.3 96.0,251.9 96.3,250.7 96.5,251.3 97.0,253.3 97.5,253.4 98.0,253.3 98.5,253.4 99.0,253.6 99.5,253.7 100.0,253.6 100.5,253.6 101.0,253.6 101.5,253.8 102.0,253.8 102.5,253.7 103.0,253.6 103.5,253.4 104.0,253.3 104.5,253.5 105.0,253.5 105.5,253.6 106.0,253.7 106.5,253.8 107.0,253.8 107.5,253.6 108.0,253.5 108.5,253.6 109.0,253.9 109.5,253.8 110.0,253.5 110.5,253.6 111.0,253.7 111.5,253.5 112.0,253.6 112.5,253.5 113.0,253.6 113.5,253.7 114.0,253.6 114.5,253.8 115.0,253.6 115.5,253.5 116.0,253.7 116.5,253.5 117.0,253.8 117.5,253.6 118.0,253.5 118.5,253.5 119.0,253.5 119.5,253.5 120.0,253.5 120.5,253.6 121.0,253.3 121.5,253.3 122.0,253.3 122.5,253.6 123.0,253.3 123.5,253.3 124.0,253.2 124.5,253.2 125.0,253.4 125.5,253.4 126.0,253.6 126.5,253.5 127.0,253.5 127.5,253.6 128.0,253.6 128.5,253.5 129.0,253.6 129.5,253.4 130.0,253.6 130.5,253.5 131.0,253.4 131.5,253.4 132.0,253.5 132.5,253.6 133.0,253.5 133.5,253.3 134.0,253.4 134.5,253.2 135.0,253.0 135.5,253.2 136.0,253.2 136.5,253.3 137.0,253.1 137.5,252.8 138.0,253.0 138.5,253.0 139.0,253.3 139.5,253.3 140.0,253.2 140.5,253.2 141.0,253.1 141.5,253.1 142.0,252.9 142.5,253.0 143.0,252.9 143.5,252.9 144.0,253.0 144.5,253.1 145.0,252.9 145.5,253.1 146.0,253.0 146.5,253.0 147.0,253.1 147.5,253.0 148.0,253.0 148.5,253.1 149.0,253.1 149.5,253.0 150.0,252.7 150.5,252.6 151.0,252.8 151.5,252.8 152.0,252.6 152.5,252.5 153.0,252.5 153.5,252.6 154.0,252.6 154.5,252.7 155.0,252.5 155.5,252.6 156.0,252.4 156.5,252.4 157.0,252.6 157.5,252.5 158.0,252.4 158.5,252.3 159.0,252.2 159.5,252.4 160.0,252.4 160.5,252.4 161.0,252.3 161.5,252.3 162.0,252.2 162.5,252.1 163.0,252.1 163.5,252.0 164.0,252.2 164.5,252.2 165.0,252.2 165.5,251.8 166.0,252.0 166.5,251.9 167.0,251.8 167.5,251.7 168.0,251.8 168.5,251.8 169.0,251.8 169.5,251.7 170.0,251.6 170.5,251.6 171.0,251.5 171.5,251.3 172.0,251.2 172.5,251.2 173.0,251.3 173.5,251.5 174.0,251.2 174.5,251.2 175.0,251.1 175.5,251.1 176.0,251.2 176.5,251.2 177.0,251.1 177.5,250.9 178.0,250.7 178.5,250.7 179.0,250.8 179.5,250.7 180.0,250.5 180.5,249.6 181.0,250.4 181.5,250.7 182.0,250.6 182.5,250.4 183.0,250.3 183.5,250.4 184.0,250.3 184.5,250.3 185.0,250.4 185.5,250.3 186.0,250.5 186.5,250.6 187.0,250.5 187.5,250.4 188.0,250.5 188.5,250.3 189.0,250.1 189.5,249.9 190.0,249.8 190.5,249.6 191.0,249.5 191.5,249.2 192.0,249.1 192.5,249.1 193.0,249.0 193.5,248.9 194.0,249.0 194.5,248.6 195.0,248.6 195.5,248.6 196.0,248.7 196.5,248.6 197.0,248.5 197.5,248.5 198.0,248.3 198.5,248.3 199.0,247.8 199.5,247.8 200.0,247.2 200.4,246.4 200.5,246.5 201.0,247.6 201.5,247.6 202.0,247.6 202.5,247.4 203.0,247.3 203.5,247.2 204.0,247.0 204.5,247.1 205.0,247.0 205.5,246.5 206.0,246.5 206.5,246.2 207.0,246.0 207.5,245.6 208.0,245.2 208.5,244.6 209.0,243.6 209.5,242.1 210.0,233.4 210.5,193.3 210.6,191.2 211.0,218.6 211.5,240.9 212.0,242.9 212.5,244.1 213.0,244.7 213.5,245.1 214.0,245.5 214.5,245.7 215.0,245.9 215.5,246.0 216.0,246.0 216.5,246.1 217.0,246.1 217.5,246.2 218.0,246.3 218.5,246.4 219.0,246.4 219.5,246.5 220.0,246.3 220.5,246.2 221.0,246.4 221.5,246.4 222.0,246.4 222.5,246.3 223.0,246.3 223.5,246.3 224.0,246.2 224.5,246.2 225.0,246.1 225.5,246.3 226.0,246.5 226.5,246.4 227.0,246.4 227.5,246.3 228.0,246.4 228.5,246.6 229.0,246.3 229.5,246.3 230.0,246.0 230.3,245.6 230.5,245.7 231.0,246.1 231.5,246.2 232.0,246.3 232.5,246.5 233.0,246.5 233.5,246.3 234.0,246.2 234.5,246.0 235.0,246.0 235.5,246.2 236.0,246.2 236.5,246.0 237.0,246.2 237.5,245.8 238.0,245.5 238.5,245.9 239.0,246.1 239.5,246.1 240.0,246.1 240.5,246.2 241.0,246.1 241.5,246.0 242.0,245.9 242.5,245.8 243.0,245.7 243.5,245.9 244.0,246.0 244.5,246.1 245.0,246.3 245.5,246.1 246.0,246.0 246.5,245.7 247.0,245.6 247.5,245.7 248.0,245.6 248.5,245.4 249.0,245.3 249.5,245.0 250.0,244.8 250.5,244.6 251.0,244.3 251.5,244.3 252.0,243.6 252.5,237.5 252.8,234.4 253.0,235.8 253.5,243.1 254.0,244.6 254.5,245.0 255.0,245.3 255.5,245.4 256.0,245.4 256.5,245.2 257.0,245.2 257.5,245.2 258.0,245.2 258.5,245.0 259.0,245.0 259.5,244.8 260.0,244.5 260.5,244.1 261.0,243.7 261.5,243.1 262.0,242.5 262.5,242.0 263.0,241.2 263.5,240.4 264.0,239.0 264.5,222.5 265.0,134.6 265.5,41.5 265.6,38.2 266.0,87.5 266.5,197.3 267.0,236.5 267.5,239.8 268.0,240.4 268.5,241.3 269.0,242.0 269.5,242.4 270.0,242.8 270.5,243.3 271.0,243.8 271.5,244.1 272.0,244.2 272.5,244.0 273.0,241.1 273.3,239.8 273.5,240.6 274.0,243.6 274.5,244.6 275.0,245.0 275.5,245.1 276.0,245.2 276.5,245.3 277.0,245.5 277.5,245.6 278.0,245.7 278.5,245.6 279.0,245.8 279.5,245.8 280.0,246.0 280.5,246.0 281.0,245.8 281.5,245.7 282.0,245.8 282.5,245.8 283.0,246.0 283.5,246.1 284.0,246.0 284.5,245.8 285.0,245.8 285.5,246.0 286.0,245.9 286.5,246.1 287.0,246.1 287.5,246.1 288.0,246.0 288.5,246.0 289.0,245.7 289.5,245.8 290.0,246.0 290.5,245.9 291.0,245.9 291.5,246.0 292.0,246.0 292.5,246.0 293.0,246.1 293.5,245.9 294.0,246.1 294.5,246.0 295.0,245.9 295.5,246.2 296.0,246.0 296.5,245.9 297.0,246.0 297.5,246.0 298.0,245.9 298.5,245.9 299.0,245.9 299.5,245.9 300.0,245.9 300.5,246.2 301.0,246.1 301.5,246.2 302.0,246.0 302.5,246.1 303.0,246.0 303.5,246.0 304.0,246.1 304.5,246.1 305.0,245.9 305.5,245.9 306.0,246.0 306.5,246.1 307.0,246.0 307.5,246.0 308.0,246.1 308.5,245.9 309.0,246.0 309.5,245.9 310.0,246.1 310.5,246.1 311.0,246.1 311.5,245.8 312.0,245.9 312.5,245.9 313.0,245.9 313.5,245.9 314.0,245.8 314.5,246.0 315.0,246.1 315.5,246.2 316.0,246.1 316.5,246.3 317.0,246.3 317.5,246.1 318.0,246.1 318.5,245.9 319.0,245.9 319.5,246.1 320.0,246.2 320.5,246.1 321.0,245.9 321.5,245.9 322.0,246.1 322.5,246.1 323.0,246.2 323.5,246.2 324.0,246.3 324.5,246.3 325.0,246.1 325.5,246.1 326.0,246.4 326.5,246.1 327.0,245.9 327.5,246.2 328.0,246.1 328.5,246.0 329.0,245.9 329.5,245.8 330.0,245.9 330.5,245.9 331.0,245.9 331.5,245.8 332.0,245.8 332.5,246.0 333.0,245.9 333.5,246.1 334.0,245.9 334.5,245.8 335.0,245.7 335.5,245.7 336.0,245.7 336.5,245.9 337.0,245.9 337.5,245.6 338.0,245.6 338.5,245.4 339.0,245.3 339.5,244.9 340.0,244.4 340.5,243.9 341.0,243.3 341.5,242.4 342.0,241.8 342.5,241.5 343.0,241.6 343.5,241.8 344.0,242.2 344.5,242.7 345.0,243.1 345.5,243.2 346.0,243.1 346.5,243.3 347.0,243.3 347.5,243.2 348.0,243.4 348.5,243.5 349.0,243.6 349.5,243.6 350.0,243.5 350.5,243.3 351.0,243.3 351.5,243.3 352.0,243.3 352.5,243.3 353.0,243.1 353.5,243.0 354.0,242.9 354.5,242.7 355.0,242.5 355.5,242.0 356.0,241.7 356.5,241.4 357.0,241.0 357.5,240.4 358.0,239.4 358.5,238.4 359.0,235.0 359.5,218.8 359.8,212.3 360.0,215.2 360.5,232.5 361.0,237.4 361.5,238.2 362.0,238.7 362.5,239.1 363.0,239.5 363.5,239.8 364.0,240.0 364.5,240.1 365.0,240.3 365.5,240.4 366.0,240.5 366.5,240.3 367.0,240.4 367.5,240.5 368.0,240.6 368.5,240.6 369.0,240.7 369.5,240.9 370.0,241.0 370.5,241.1 371.0,241.1 371.5,241.1 372.0,241.3 372.5,241.5 373.0,241.8 373.5,242.1 374.0,242.3 374.5,242.5 375.0,242.9 375.5,243.2 376.0,243.7 376.5,243.9 377.0,243.9 377.5,244.0 378.0,244.0 378.5,244.1 379.0,244.2 379.5,244.3 380.0,244.3 380.5,244.4 381.0,244.5 381.5,244.6 382.0,244.3 382.5,244.2 383.0,244.0 383.5,243.6 384.0,243.5 384.5,243.1 385.0,242.8 385.5,242.6 386.0,242.0 386.5,238.7 387.0,224.7 387.3,219.1 387.5,221.6 388.0,236.5 388.5,241.5 389.0,242.2 389.5,242.6 390.0,243.3 390.5,243.6 391.0,243.7 391.5,243.6 392.0,243.6 392.5,243.3 393.0,243.4 393.5,243.2 394.0,242.9 394.5,241.0 395.0,233.6 395.3,230.8 395.5,232.1 396.0,240.5 396.5,243.4 397.0,243.9 397.5,244.2 398.0,244.6 398.5,245.0 399.0,245.1 399.5,245.0 400.0,245.1 400.5,245.3 401.0,245.3 401.5,245.5 402.0,245.5 402.5,245.6 403.0,245.6 403.5,245.3 404.0,245.4 404.5,245.5 405.0,245.5 405.5,245.5 406.0,245.8 406.5,245.8 407.0,246.0 407.5,245.8 408.0,245.6 408.5,245.7 409.0,245.9 409.5,245.8 410.0,245.8 410.5,245.8 411.0,245.5 411.5,245.3 412.0,244.9 412.5,244.8 413.0,244.6 413.5,244.1 414.0,243.5 414.5,242.5 415.0,237.6 415.5,225.3 415.7,223.2 416.0,227.6 416.5,239.4 417.0,242.8 417.5,243.7 418.0,244.3 418.5,244.5 419.0,244.9 419.5,245.3 420.0,245.5 420.5,245.3 421.0,245.5 421.5,246.0 422.0,245.9 422.5,246.1 423.0,245.9 423.5,246.3 424.0,246.2 424.5,246.4 425.0,246.5 425.5,246.1 426.0,246.1 426.5,246.2 427.0,246.0 427.5,246.1 428.0,246.0 428.5,246.2 429.0,246.1 429.5,245.9 430.0,246.0 430.5,246.1 431.0,245.9 431.5,245.9 432.0,245.8 432.5,245.6 433.0,245.4 433.5,245.3 434.0,245.2 434.5,244.9 435.0,244.9 435.5,244.9 436.0,244.7 436.5,244.5 437.0,244.3 437.5,244.2 438.0,244.1 438.5,243.8 439.0,243.5 439.5,243.3 440.0,243.1 440.5,243.0 441.0,242.5 441.5,242.4 442.0,242.3 442.5,242.1 443.0,241.7 443.5,241.5 444.0,240.9 444.5,240.6 445.0,240.6 445.5,240.0 446.0,239.6 446.5,238.7 447.0,233.9 447.5,227.9 447.6,227.6 448.0,231.4 448.5,237.9 449.0,240.2 449.5,240.0 450.0,238.3 450.2,238.0 450.5,239.2 451.0,242.0 451.5,242.7 452.0,242.9 452.5,243.1 453.0,243.5 453.5,243.9 454.0,243.9 454.5,244.1 455.0,244.3 455.5,244.6 456.0,244.6 456.5,244.8 457.0,245.1 457.5,245.2 458.0,245.3 458.5,245.5 459.0,245.7 459.5,245.9 460.0,245.8 460.5,246.0 461.0,246.0 461.5,246.0 462.0,246.0 462.5,246.0 463.0,246.1 463.5,246.4 464.0,246.2 464.5,246.2 465.0,246.4 465.5,246.4 466.0,246.6 466.5,246.4 467.0,246.4 467.5,246.0 468.0,245.5 468.5,243.9 468.8,243.5 469.0,243.9 469.5,245.7 470.0,246.5 470.5,246.6 471.0,246.5 471.5,246.8 472.0,247.0 472.5,246.9 473.0,247.2 473.5,247.0 474.0,247.1 474.5,247.1 475.0,246.9 475.5,247.1 476.0,247.0 476.5,247.3 477.0,247.2 477.5,247.3 478.0,247.2 478.5,247.3 479.0,247.2 479.5,247.3 480.0,247.4 480.5,247.3 481.0,247.2 481.5,247.3 482.0,247.0 482.5,246.7 483.0,246.7 483.5,246.4 484.0,246.0 484.5,245.7 485.0,245.3 485.5,244.7 486.0,244.2 486.5,243.4 487.0,242.5 487.5,241.4 488.0,239.0 488.5,224.6 489.0,199.9 489.2,196.5 489.5,203.9 490.0,229.3 490.5,240.3 491.0,242.3 491.5,243.0 492.0,243.9 492.5,244.4 493.0,245.1 493.5,245.5 494.0,245.8 494.5,245.8 495.0,245.9 495.5,246.1 496.0,246.4 496.5,246.5 497.0,247.0 497.5,247.2 498.0,247.3 498.5,247.3 499.0,247.4 499.5,247.4 500.0,247.5 500.5,247.6 501.0,247.7 501.5,247.5 502.0,247.6 502.5,247.8 503.0,247.6 503.5,247.6 504.0,247.6 504.5,247.5 505.0,247.7 505.5,247.7 506.0,247.8 506.5,247.8 507.0,247.7 507.5,247.7 508.0,247.7 508.5,247.5 509.0,247.7 509.5,247.7 510.0,247.8 510.5,247.5 511.0,247.7 511.5,247.7 512.0,247.7 512.5,247.4 513.0,247.4 513.5,247.4 514.0,247.4 514.5,247.4 515.0,247.2 515.5,247.2 516.0,247.2 516.5,247.3 517.0,247.1 517.5,247.2 518.0,246.8 518.5,246.7 519.0,246.7 519.5,246.3 520.0,246.2 520.5,246.0 521.0,245.7 521.5,245.5 522.0,245.5 522.5,245.2 523.0,245.0 523.5,244.9 524.0,244.8 524.5,244.4 525.0,244.2 525.5,244.0 526.0,244.0 526.5,244.1 527.0,244.1 527.5,243.9 528.0,243.9 528.5,243.7 529.0,243.6 529.5,243.2 530.0,243.1 530.5,242.8 531.0,242.7 531.5,242.4 532.0,242.0 532.5,239.6 533.0,232.7 533.5,226.2 533.6,225.9 534.0,229.3 534.5,237.1 535.0,241.1 535.5,241.7 536.0,242.0 536.5,242.4 537.0,242.3 537.5,240.8 538.0,237.1 538.3,236.1 538.5,236.8 539.0,240.7 539.5,242.9 540.0,243.4 540.5,243.6 541.0,243.8 541.5,244.1 542.0,244.4 542.5,244.6 543.0,244.6 543.5,244.8 544.0,244.8 544.5,244.8 545.0,245.1 545.5,245.1 546.0,245.1 546.5,244.9 547.0,244.6 547.5,244.6 548.0,244.8 548.5,244.7 549.0,244.7 549.5,244.6 550.0,244.7 550.5,244.6 551.0,244.8 551.5,244.6 552.0,244.5 552.5,244.7 553.0,244.6 553.5,244.6 554.0,244.6 554.5,244.5 555.0,244.5 555.5,244.5 556.0,244.5 556.5,244.3 557.0,244.5 557.5,244.5 558.0,244.4 558.5,244.4 559.0,244.4 559.5,244.4 560.0,244.5 560.5,244.7 561.0,244.6 561.5,244.7 562.0,244.5 562.5,244.7 563.0,244.6 563.5,244.7 564.0,244.6 564.5,244.6 565.0,244.5 565.5,244.4 566.0,244.4 566.5,244.3 567.0,244.3 567.5,244.4 568.0,244.3 568.5,244.2 569.0,244.1 569.5,244.0 570.0,243.9 570.5,243.9 571.0,243.9 571.5,243.7 572.0,243.5 572.5,243.4 573.0,243.4 573.5,243.1 574.0,243.0 574.5,242.8 575.0,242.6 575.5,242.1 576.0,241.6 576.5,241.1 577.0,240.6 577.5,240.2 578.0,239.5 578.5,239.1 579.0,238.4 579.5,237.6 580.0,236.5 580.5,234.4 581.0,226.9 581.5,211.8 582.0,202.5 582.5,210.6 583.0,220.7 583.5,219.1 583.8,218.4 584.0,219.9 584.5,228.6 585.0,234.6 585.5,236.6 586.0,237.6 586.5,238.3 587.0,238.8 587.5,239.4 588.0,239.9 588.5,240.1 589.0,240.7 589.5,240.9 590.0,241.3 590.5,241.3 591.0,241.4 591.5,241.7 592.0,241.9 592.5,241.9 593.0,242.0 593.5,242.0 594.0,241.9 594.5,242.2 595.0,242.2 595.5,242.5 596.0,242.7 596.5,242.8 597.0,243.0 597.5,243.0 598.0,243.0 598.5,243.0 599.0,243.1 599.5,243.2 600.0,243.1 600.5,243.2 601.0,243.2 601.5,243.6 602.0,243.7 602.5,243.6 603.0,243.7 603.5,243.5 604.0,243.6 604.5,243.9 605.0,243.9 605.5,244.0 606.0,243.9 606.5,243.9 607.0,243.9 607.5,243.5 608.0,243.0 608.5,242.3 608.7,242.1 609.0,242.5 609.5,243.7 610.0,244.1 610.5,244.2 611.0,244.2 611.5,244.2 612.0,244.2 612.5,244.3 613.0,244.1 613.5,244.1 614.0,244.0 614.5,244.0 615.0,244.0 615.5,243.9 616.0,243.7 616.5,243.8 617.0,243.8 617.5,243.4 618.0,243.2 618.5,242.8 619.0,242.0 619.5,241.0 620.0,237.7 620.5,235.2 621.0,237.3 621.5,240.3 622.0,241.5 622.5,241.6 623.0,241.7 623.5,241.8 624.0,241.7 624.5,241.8 625.0,241.7 625.5,241.7 626.0,241.8 626.5,241.9 627.0,241.7 627.5,241.8 628.0,241.9 628.5,241.7 629.0,241.6 629.5,241.8 630.0,241.5 630.5,241.5 631.0,241.4 631.5,241.2 632.0,240.9 632.5,240.6 633.0,240.2 633.5,239.8 634.0,239.1 634.5,238.7 635.0,238.2 635.5,238.1 636.0,237.9 636.5,237.7 637.0,237.1 637.5,237.0 638.0,236.9 638.5,236.7 639.0,236.4 639.5,236.5 640.0,236.3 640.5,236.2 641.0,236.1 641.5,236.1 642.0,235.7 642.5,235.8 643.0,235.6 643.5,235.5 644.0,235.6 644.5,235.6 645.0,235.4 645.5,235.6 646.0,235.6 646.5,235.6 647.0,235.7 647.5,235.6 648.0,235.9 648.5,236.1 649.0,236.1 649.5,236.0 650.0,235.9 650.5,235.9 651.0,235.7 651.5,235.6 652.0,235.6 652.5,235.2 653.0,234.7 653.5,233.9 654.0,233.1 654.5,230.7 655.0,223.5 655.5,213.3 655.8,210.7 656.0,212.0 656.5,221.0 657.0,228.6 657.5,230.9 658.0,230.9 658.5,230.8 659.0,229.9 659.5,224.4 660.0,212.4 660.5,205.1 661.0,212.1 661.5,221.6 662.0,220.3 662.4,218.4 662.5,218.7 663.0,226.1 663.5,232.9 664.0,235.6 664.5,236.7 665.0,237.8 665.5,238.5 666.0,239.2 666.5,239.9 667.0,240.2 667.5,240.7 668.0,241.0 668.5,241.4 669.0,241.7 669.5,241.9 670.0,242.1 670.5,242.2 671.0,242.4 671.5,242.7 672.0,242.9 672.5,243.1 673.0,243.4 673.5,243.4 674.0,243.5 674.5,243.4 675.0,243.7 675.5,243.7 676.0,243.8 676.5,244.0 677.0,244.2 677.5,244.3 678.0,244.4" fill="none" stroke="#2424d8" stroke-width="1.1" stroke-linejoin="round"/>
<polyline points="30.0,275.1 30.5,277.1 31.0,276.8 31.5,279.0 32.0,279.8 32.5,280.9 33.0,283.7 33.5,283.9 34.0,284.4 34.5,285.7 35.0,287.1 35.5,287.2 36.0,288.2 36.5,287.9 37.0,288.7 37.5,289.4 38.0,289.4 38.5,289.8 39.0,290.3 39.5,292.0 40.0,293.2 40.5,294.0 41.0,295.0 41.5,294.8 42.0,296.2 42.5,297.4 43.0,298.7 43.5,298.4 44.0,299.2 44.5,298.7 45.0,300.1 45.5,299.7 46.0,300.5 46.5,303.1 47.0,301.7 47.5,303.7 48.0,304.2 48.5,304.1 49.0,304.8 49.5,305.2 50.0,306.0 50.5,305.4 51.0,305.0 51.5,305.1 52.0,304.9 52.5,305.8 53.0,305.6 53.5,307.2 54.0,305.5 54.5,305.7 55.0,306.0 55.5,305.3 56.0,308.4 56.5,306.2 57.0,307.2 57.5,307.5 58.0,309.5 58.5,307.4 59.0,309.2 59.5,308.5 60.0,308.9 60.5,308.7 61.0,309.8 61.5,308.8 62.0,309.4 62.5,310.1 63.0,311.6 63.5,308.9 64.0,311.1 64.5,311.5 65.0,310.6 65.5,311.0 66.0,310.6 66.5,312.2 67.0,311.7 67.5,311.3 68.0,311.2 68.5,311.3 69.0,311.4 69.5,310.9 70.0,313.1 70.5,310.8 71.0,308.7 71.5,310.7 72.0,311.4 72.5,312.1 73.0,311.9 73.5,311.9 74.0,312.2 74.5,312.9 75.0,312.0 75.5,311.8 76.0,313.6 76.5,313.1 77.0,311.8 77.5,313.9 78.0,313.5 78.5,312.3 79.0,311.4 79.5,312.3 80.0,311.7 80.5,311.4 81.0,311.1 81.5,311.6 82.0,313.1 82.5,312.4 83.0,311.4 83.5,312.7 84.0,312.7 84.5,313.3 85.0,313.8 85.5,313.0 86.0,312.7 86.5,312.7 87.0,311.9 87.5,313.0 88.0,313.9 88.5,313.4 89.0,312.8 89.5,312.7 90.0,312.2 90.5,312.0 91.0,312.2 91.5,312.0 92.0,312.2 92.5,311.4 93.0,312.6 93.5,312.8 94.0,311.9 94.5,310.7 95.0,312.0 95.5,313.3 96.0,312.4 96.5,312.2 97.0,312.1 97.5,313.0 98.0,312.0 98.5,313.2 99.0,312.6 99.5,313.3 100.0,312.9 100.5,312.5 101.0,311.3 101.5,311.5 102.0,311.9 102.5,312.7 103.0,312.7 103.5,311.9 104.0,312.4 104.5,313.1 105.0,312.4 105.5,311.9 106.0,311.7 106.5,312.6 107.0,312.6 107.5,311.5 108.0,312.1 108.5,311.6 109.0,311.2 109.5,312.6 110.0,312.7 110.5,311.5 111.0,311.7 111.5,312.1 112.0,311.3 112.5,311.5 113.0,312.1 113.5,310.4 114.0,311.4 114.5,312.1 115.0,312.1 115.5,310.7 116.0,311.5 116.5,310.8 117.0,311.7 117.5,312.0 118.0,311.8 118.5,310.9 119.0,310.7 119.5,311.8 120.0,310.8 120.5,311.5 121.0,311.7 121.5,311.2 122.0,313.0 122.5,311.9 123.0,313.1 123.5,310.2 124.0,309.0 124.5,311.1 125.0,311.6 125.5,311.0 126.0,310.9 126.5,309.5 127.0,309.9 127.5,309.8 128.0,310.3 128.5,311.4 129.0,311.1 129.5,311.2 130.0,310.3 130.5,310.2 131.0,310.6 131.5,310.3 132.0,311.4 132.5,310.1 133.0,311.7 133.5,310.0 134.0,311.0 134.5,309.8 135.0,311.3 135.5,310.5 136.0,310.4 136.5,310.6 137.0,309.6 137.5,308.9 138.0,307.8 138.5,309.9 139.0,309.1 139.5,308.9 140.0,309.2 140.5,310.8 141.0,308.4 141.5,309.1 142.0,308.8 142.5,309.4 143.0,307.7 143.5,308.2 144.0,309.3 144.5,310.2 145.0,310.5 145.5,308.7 146.0,308.7 146.5,308.5 147.0,307.5 147.5,307.0 148.0,308.5 148.5,308.6 149.0,308.3 149.5,309.2 150.0,307.7 150.5,308.4 151.0,308.2 151.5,308.0 152.0,308.3 152.5,308.2 153.0,308.1 153.5,308.1 154.0,309.3 154.5,308.0 155.0,308.5 155.5,308.3 156.0,307.4 156.5,308.0 157.0,306.8 157.5,307.9 158.0,306.7 158.5,306.5 159.0,307.0 159.5,307.5 160.0,307.7 160.5,307.6 161.0,306.7 161.5,305.7 162.0,306.4 162.5,306.3 163.0,305.2 163.5,306.3 164.0,305.9 164.5,304.8 165.0,305.3 165.5,304.0 166.0,303.7 166.5,304.5 167.0,303.0 167.5,303.4 168.0,301.3 168.5,303.6 169.0,303.0 169.5,303.3 170.0,302.1 170.5,302.5 171.0,303.7 171.5,303.7 172.0,301.9 172.5,303.4 173.0,303.9 173.5,303.2 174.0,304.4 174.5,302.9 175.0,303.2 175.5,304.2 176.0,304.7 176.5,304.8 177.0,302.9 177.5,301.6 178.0,302.8 178.5,301.6 179.0,302.1 179.5,301.3 180.0,302.8 180.5,302.9 181.0,302.7 181.5,302.1 182.0,301.7 182.5,301.2 183.0,301.5 183.5,301.3 184.0,301.3 184.5,300.5 185.0,301.9 185.5,301.0 186.0,301.4 186.5,301.4 187.0,299.5 187.5,298.1 188.0,299.8 188.5,299.0 189.0,299.0 189.5,298.6 190.0,298.6 190.5,297.5 191.0,297.8 191.5,297.6 192.0,297.7 192.5,295.9 193.0,297.6 193.5,297.7 194.0,296.0 194.5,296.1 195.0,296.7 195.5,297.3 196.0,296.9 196.5,297.8 197.0,297.0 197.5,295.9 198.0,295.7 198.5,296.6 199.0,295.8 199.5,296.6 200.0,297.0 200.5,296.6 201.0,296.7 201.5,295.7 202.0,295.4 202.5,294.7 203.0,294.3 203.5,293.3 204.0,293.6 204.5,293.1 205.0,292.5 205.5,293.3 206.0,293.6 206.5,292.9 207.0,293.7 207.5,293.4 208.0,293.1 208.5,291.3 209.0,289.5 209.5,290.0 210.0,289.2 210.5,287.9 211.0,273.0 211.3,265.2 211.5,268.3 212.0,286.4 212.5,287.8 213.0,287.1 213.5,288.7 214.0,291.1 214.5,289.6 215.0,291.3 215.5,290.7 216.0,290.8 216.5,291.3 217.0,291.6 217.5,290.9 218.0,291.5 218.5,292.1 219.0,292.6 219.5,291.6 220.0,293.0 220.5,293.8 221.0,294.5 221.5,291.8 222.0,292.1 222.5,290.6 223.0,291.8 223.5,292.4 224.0,291.3 224.5,290.5 225.0,291.7 225.5,292.4 226.0,291.6 226.5,291.7 227.0,290.0 227.5,290.8 228.0,291.7 228.5,292.1 229.0,293.3 229.5,291.6 230.0,290.1 230.5,291.7 231.0,291.4 231.5,291.9 232.0,292.4 232.5,292.5 233.0,293.1 233.5,293.2 234.0,290.8 234.5,291.2 235.0,293.0 235.5,291.6 236.0,292.2 236.5,291.6 237.0,291.1 237.5,292.4 238.0,292.4 238.5,291.4 239.0,292.0 239.5,290.4 240.0,290.3 240.5,291.6 241.0,291.4 241.5,290.5 242.0,291.4 242.5,291.6 243.0,292.5 243.5,292.6 244.0,291.6 244.5,291.2 245.0,291.3 245.5,291.2 246.0,292.5 246.5,293.0 247.0,292.9 247.5,292.1 248.0,291.2 248.5,291.8 249.0,290.8 249.5,290.7 250.0,288.9 250.5,288.9 251.0,289.9 251.5,287.8 252.0,285.7 252.5,283.7 252.6,285.1 253.0,286.6 253.5,286.3 254.0,285.8 254.5,286.1 255.0,285.5 255.5,286.1 256.0,286.2 256.5,285.1 257.0,285.1 257.5,285.1 258.0,284.0 258.5,282.9 259.0,283.6 259.5,284.1 260.0,282.1 260.5,280.7 261.0,280.5 261.5,279.4 262.0,278.1 262.5,278.9 263.0,276.7 263.5,275.6 264.0,274.6 264.5,273.1 265.0,271.7 265.5,256.6 266.0,196.1 266.3,175.9 266.5,184.7 267.0,246.4 267.5,271.7 268.0,274.1 268.5,276.4 269.0,279.2 269.5,280.5 270.0,281.4 270.5,282.0 271.0,283.5 271.5,284.6 272.0,284.5 272.5,285.2 273.0,285.9 273.3,284.1 273.5,284.9 274.0,285.9 274.5,288.4 275.0,288.8 275.5,289.1 276.0,289.3 276.5,289.5 277.0,289.8 277.5,288.6 278.0,289.8 278.5,290.7 279.0,289.6 279.5,291.1 280.0,291.6 280.5,290.2 281.0,290.6 281.5,291.0 282.0,291.0 282.5,291.7 283.0,290.8 283.5,291.3 284.0,291.9 284.5,292.5 285.0,292.3 285.5,292.0 286.0,292.7 286.5,290.9 287.0,292.6 287.5,292.3 288.0,291.5 288.5,291.9 289.0,290.9 289.5,290.5 290.0,291.7 290.5,291.8 291.0,293.0 291.5,292.2 292.0,291.5 292.5,291.6 293.0,293.7 293.5,293.1 294.0,292.4 294.5,291.8 295.0,291.5 295.5,292.1 296.0,292.7 296.5,293.4 297.0,293.5 297.5,292.8 298.0,291.7 298.5,291.1 299.0,289.7 299.5,290.1 300.0,291.3 300.5,291.1 301.0,291.4 301.5,290.2 302.0,291.4 302.5,291.3 303.0,290.9 303.5,291.0 304.0,288.9 304.5,289.4 305.0,289.2 305.5,290.9 306.0,289.2 306.5,289.3 307.0,290.4 307.5,289.2 308.0,290.6 308.5,289.4 309.0,289.5 309.5,288.8 310.0,289.9 310.5,287.9 311.0,289.5 311.5,288.9 312.0,289.4 312.5,288.6 313.0,289.4 313.5,289.7 314.0,290.2 314.5,290.1 315.0,290.4 315.5,290.8 316.0,289.9 316.5,288.9 317.0,288.6 317.5,290.0 318.0,289.7 318.5,290.8 319.0,290.3 319.5,289.4 320.0,290.5 320.5,291.7 321.0,290.5 321.5,289.4 322.0,289.1 322.5,290.3 323.0,289.6 323.5,289.4 324.0,290.2 324.5,289.9 325.0,290.0 325.5,289.5 326.0,289.2 326.5,289.8 327.0,290.1 327.5,290.1 328.0,288.2 328.5,290.0 329.0,290.9 329.5,290.8 330.0,291.3 330.5,291.9 331.0,291.6 331.5,291.5 332.0,290.7 332.5,291.5 333.0,291.6 333.5,291.5 334.0,291.1 334.5,292.1 335.0,294.1 335.5,293.1 336.0,292.5 336.5,292.5 337.0,291.7 337.5,291.9 338.0,291.4 338.5,291.2 339.0,291.8 339.5,291.9 340.0,291.6 340.5,290.9 341.0,291.4 341.5,290.4 342.0,291.4 342.5,290.7 343.0,290.6 343.5,291.1 344.0,290.9 344.5,289.3 345.0,289.3 345.5,289.6 346.0,288.3 346.5,285.9 347.0,285.5 347.5,287.2 348.0,288.3 348.5,288.1 349.0,287.9 349.5,287.9 350.0,288.7 350.5,288.2 351.0,288.0 351.5,287.0 352.0,287.7 352.5,286.7 353.0,286.8 353.5,284.2 354.0,284.7 354.5,284.2 355.0,283.2 355.5,283.8 356.0,282.8 356.5,281.5 357.0,280.1 357.5,280.8 358.0,279.4 358.5,277.8 359.0,275.0 359.5,273.4 360.0,256.2 360.5,235.0 361.0,255.0 361.5,270.1 362.0,273.8 362.5,274.0 363.0,276.2 363.5,276.5 364.0,276.8 364.5,278.0 365.0,278.6 365.5,278.0 366.0,278.8 366.5,279.7 367.0,279.5 367.5,278.6 368.0,279.1 368.5,278.7 369.0,278.7 369.5,279.1 370.0,279.1 370.5,279.0 371.0,277.8 371.5,278.4 372.0,277.7 372.5,278.8 373.0,280.5 373.5,282.6 374.0,281.1 374.5,280.7 375.0,282.6 375.5,282.3 376.0,284.1 376.5,283.1 377.0,283.3 377.5,284.5 378.0,285.2 378.5,285.2 379.0,285.3 379.5,285.0 380.0,284.7 380.5,284.9 381.0,286.1 381.5,286.1 382.0,285.6 382.5,285.5 383.0,285.7 383.5,285.9 384.0,284.6 384.5,283.8 385.0,283.3 385.5,284.1 386.0,281.7 386.5,280.6 387.0,274.8 387.5,254.3 388.0,230.7 388.5,252.8 389.0,274.9 389.5,279.3 390.0,281.3 390.5,282.9 391.0,284.0 391.5,284.1 392.0,286.7 392.5,285.8 393.0,285.6 393.5,286.1 394.0,284.9 394.5,283.4 395.0,280.3 395.5,265.5 396.0,247.1 396.5,262.9 397.0,279.4 397.5,280.7 398.0,282.3 398.5,284.9 399.0,285.1 399.5,286.1 400.0,287.2 400.5,286.5 401.0,287.7 401.5,287.6 402.0,287.5 402.5,288.3 403.0,289.0 403.5,289.2 404.0,289.3 404.5,290.8 405.0,291.7 405.5,291.7 406.0,291.3 406.5,290.5 407.0,290.5 407.5,290.4 408.0,291.4 408.5,292.3 409.0,292.5 409.5,291.8 410.0,291.1 410.5,291.1 411.0,290.8 411.5,290.7 412.0,290.9 412.5,288.8 413.0,289.5 413.5,285.8 414.0,283.7 414.5,282.1 415.0,280.5 415.5,274.0 416.0,248.3 416.4,231.8 416.5,233.8 417.0,260.0 417.5,279.2 418.0,281.8 418.5,285.8 419.0,286.2 419.5,286.7 420.0,289.7 420.5,289.5 421.0,290.1 421.5,290.2 422.0,290.0 422.5,289.7 423.0,290.7 423.5,292.7 424.0,292.5 424.5,292.2 425.0,293.0 425.5,291.8 426.0,293.2 426.5,292.7 427.0,291.8 427.5,292.6 428.0,292.8 428.5,292.1 429.0,292.3 429.5,292.9 430.0,293.4 430.5,291.8 431.0,289.8 431.5,292.6 432.0,291.7 432.5,291.2 433.0,291.6 433.5,291.0 434.0,291.8 434.5,290.1 435.0,290.2 435.5,289.2 436.0,290.8 436.5,289.7 437.0,290.0 437.5,290.1 438.0,287.9 438.5,287.5 439.0,287.8 439.5,287.1 440.0,286.4 440.5,286.6 441.0,286.4 441.5,284.8 442.0,284.2 442.5,284.3 443.0,283.7 443.5,283.1 444.0,281.6 444.5,283.0 445.0,281.6 445.5,281.1 446.0,280.4 446.5,279.7 447.0,277.7 447.5,266.9 448.0,252.0 448.2,250.9 448.5,255.0 449.0,271.6 449.5,279.7 450.0,281.2 450.5,283.4 451.0,282.8 451.5,284.0 452.0,285.4 452.5,285.7 453.0,285.1 453.5,285.2 454.0,287.6 454.5,286.7 455.0,287.4 455.5,288.3 456.0,288.5 456.5,287.3 457.0,287.0 457.5,288.5 458.0,288.8 458.5,289.5 459.0,290.2 459.5,290.7 460.0,290.0 460.5,289.7 461.0,291.8 461.5,291.5 462.0,291.2 462.5,290.6 463.0,292.6 463.5,292.1 464.0,292.2 464.5,293.6 465.0,293.9 465.5,294.3 466.0,293.0 466.5,291.3 467.0,292.1 467.5,292.9 468.0,292.7 468.5,293.3 469.0,292.4 469.5,292.1 470.0,293.6 470.5,293.4 471.0,293.1 471.5,294.2 472.0,292.5 472.5,294.0 473.0,294.6 473.5,292.4 474.0,293.1 474.5,293.4 475.0,292.8 475.5,293.0 476.0,292.9 476.5,293.6 477.0,293.3 477.5,291.9 478.0,294.0 478.5,294.4 479.0,293.2 479.5,294.0 480.0,295.0 480.5,292.5 481.0,292.3 481.5,292.0 482.0,292.4 482.5,291.4 483.0,289.8 483.5,290.6 484.0,289.0 484.5,288.5 485.0,288.8 485.5,285.7 486.0,284.0 486.5,283.6 487.0,281.7 487.5,280.5 488.0,278.6 488.5,278.2 489.0,265.4 489.5,233.2 489.9,218.3 490.0,219.4 490.5,244.9 491.0,270.5 491.5,277.6 492.0,278.7 492.5,281.4 493.0,283.4 493.5,285.0 494.0,289.0 494.5,289.8 495.0,290.5 495.5,290.5 496.0,291.5 496.5,291.9 497.0,292.5 497.5,293.2 498.0,295.4 498.5,295.4 499.0,295.7 499.5,295.6 500.0,296.8 500.5,294.5 501.0,293.2 501.5,294.0 502.0,294.3 502.5,294.3 503.0,293.8 503.5,294.6 504.0,295.8 504.5,295.0 505.0,294.4 505.5,295.3 506.0,294.4 506.5,294.1 507.0,294.5 507.5,292.6 508.0,295.2 508.5,294.5 509.0,294.8 509.5,294.7 510.0,294.8 510.5,293.4 511.0,295.4 511.5,295.1 512.0,294.8 512.5,297.0 513.0,294.3 513.5,294.9 514.0,294.4 514.5,293.1 515.0,295.3 515.5,293.2 516.0,293.7 516.5,293.6 517.0,293.6 517.5,292.6 518.0,293.9 518.5,293.4 519.0,291.8 519.5,291.2 520.0,291.9 520.5,290.8 521.0,291.5 521.5,291.5 522.0,290.5 522.5,289.0 523.0,288.6 523.5,288.4 524.0,286.7 524.5,289.7 525.0,289.6 525.5,289.9 526.0,290.0 526.5,289.4 527.0,288.9 527.5,287.7 528.0,285.0 528.5,286.5 529.0,287.2 529.5,288.8 530.0,287.7 530.5,287.6 531.0,284.3 531.5,284.7 532.0,284.0 532.5,284.3 533.0,283.4 533.5,279.7 534.0,271.4 534.5,264.4 534.6,264.7 535.0,267.5 535.5,278.0 536.0,281.8 536.5,283.4 537.0,282.8 537.5,283.0 538.0,280.0 538.5,275.1 539.0,280.1 539.5,283.8 540.0,285.8 540.5,289.2 541.0,288.6 541.5,289.1 542.0,288.0 542.5,289.1 543.0,289.2 543.5,291.0 544.0,290.4 544.5,292.8 545.0,290.8 545.5,291.3 546.0,289.6 546.5,290.3 547.0,291.7 547.5,291.1 548.0,289.9 548.5,290.8 549.0,291.5 549.5,291.2 550.0,291.5 550.5,289.6 551.0,291.4 551.5,291.1 552.0,288.7 552.5,290.9 553.0,289.8 553.5,290.1 554.0,288.1 554.5,288.5 555.0,287.6 555.5,289.2 556.0,288.8 556.5,287.3 557.0,286.6 557.5,288.6 558.0,288.3 558.5,289.1 559.0,288.0 559.5,287.2 560.0,287.9 560.5,288.3 561.0,288.8 561.5,289.6 562.0,288.8 562.5,288.6 563.0,289.5 563.5,289.5 564.0,289.1 564.5,289.2 565.0,287.3 565.5,287.9 566.0,287.3 566.5,288.0 567.0,289.1 567.5,287.5 568.0,288.8 568.5,288.1 569.0,288.1 569.5,287.8 570.0,288.5 570.5,287.6 571.0,286.1 571.5,287.4 572.0,287.3 572.5,287.8 573.0,287.9 573.5,286.3 574.0,286.7 574.5,286.6 575.0,286.1 575.5,285.8 576.0,285.5 576.5,284.3 577.0,283.7 577.5,283.7 578.0,281.5 578.5,280.6 579.0,278.9 579.5,277.5 580.0,276.7 580.5,276.3 581.0,276.1 581.5,270.8 582.0,259.5 582.5,247.1 582.7,245.3 583.0,245.7 583.5,260.8 584.0,271.5 584.5,274.0 585.0,275.5 585.5,277.5 586.0,276.4 586.5,276.9 587.0,278.5 587.5,277.2 588.0,277.7 588.5,279.1 589.0,280.4 589.5,281.3 590.0,281.4 590.5,283.0 591.0,282.2 591.5,280.9 592.0,281.6 592.5,282.7 593.0,283.1 593.5,281.7 594.0,283.2 594.5,283.1 595.0,283.7 595.5,285.4 596.0,284.9 596.5,284.5 597.0,285.0 597.5,284.9 598.0,287.1 598.5,287.1 599.0,287.3 599.5,286.3 600.0,286.1 600.5,286.8 601.0,285.2 601.5,287.3 602.0,286.2 602.5,286.9 603.0,287.3 603.5,286.6 604.0,287.1 604.5,287.5 605.0,288.4 605.5,287.4 606.0,288.1 606.5,287.2 607.0,286.4 607.5,286.9 608.0,285.6 608.5,284.4 609.0,283.7 609.5,285.7 610.0,287.0 610.5,286.1 611.0,287.9 611.5,287.8 612.0,287.4 612.5,286.9 613.0,287.8 613.5,287.9 614.0,288.2 614.5,287.6 615.0,288.5 615.5,287.3 616.0,287.2 616.5,286.8 617.0,287.0 617.5,285.4 618.0,284.7 618.5,283.9 619.0,282.7 619.5,281.5 620.0,278.8 620.5,274.4 621.0,268.8 621.2,266.2 621.5,268.5 622.0,273.5 622.5,277.3 623.0,278.7 623.5,279.7 624.0,280.9 624.5,280.0 625.0,280.5 625.5,282.1 626.0,282.6 626.5,284.9 627.0,283.9 627.5,283.4 628.0,284.6 628.5,282.1 629.0,281.8 629.5,285.2 630.0,283.7 630.5,283.5 631.0,283.1 631.5,282.2 632.0,282.2 632.5,280.8 633.0,281.8 633.5,281.5 634.0,280.8 634.5,278.7 635.0,276.6 635.5,276.4 636.0,275.3 636.5,275.6 637.0,273.7 637.5,273.1 638.0,273.4 638.5,273.4 639.0,272.9 639.5,271.4 640.0,271.1 640.5,272.9 641.0,272.4 641.5,270.5 642.0,271.7 642.5,270.2 643.0,269.5 643.5,268.5 644.0,269.8 644.5,269.2 645.0,268.8 645.5,268.0 646.0,267.7 646.5,268.9 647.0,269.3 647.5,270.9 648.0,269.7 648.5,269.9 649.0,271.2 649.5,271.8 650.0,271.0 650.5,272.5 651.0,272.4 651.5,272.9 652.0,272.7 652.5,272.7 653.0,271.2 653.5,270.2 654.0,269.9 654.5,268.2 655.0,265.9 655.5,261.4 656.0,252.3 656.5,246.7 657.0,248.1 657.5,254.8 658.0,258.4 658.5,257.7 659.0,257.9 659.5,258.2 660.0,256.6 660.5,252.4 661.0,247.2 661.2,246.2 661.5,249.5 662.0,257.0 662.5,263.7 663.0,268.3 663.5,272.1 664.0,275.0 664.5,276.9 665.0,279.4 665.5,281.7 666.0,283.2 666.5,285.0 667.0,284.2 667.5,284.1 668.0,282.7 668.5,285.2 669.0,285.9 669.5,285.7 670.0,285.4 670.5,284.0 671.0,286.3 671.5,286.1 672.0,288.0 672.5,288.2 673.0,288.8 673.5,288.0 674.0,288.8 674.5,287.1 675.0,288.8 675.5,288.2 676.0,287.1 676.5,287.2 677.0,286.8 677.5,287.6 678.0,287.1" fill="none" stroke="#141414" stroke-width="1.1" stroke-linejoin="round"/>
<polyline points="30.0,258.7 30.5,258.7 31.0,259.3 31.5,259.9 32.0,260.9 32.5,261.1 33.0,261.9 33.5,262.6 34.0,263.2 34.5,264.0 35.0,264.8 35.5,265.6 36.0,266.1 36.5,267.0 37.0,267.5 37.5,267.2 38.0,268.7 38.5,269.2 39.0,269.6 39.5,270.3 40.0,270.9 40.5,271.4 41.0,271.6 41.5,272.2 42.0,272.2 42.5,273.3 43.0,273.2 43.5,273.7 44.0,274.2 44.5,274.6 45.0,274.9 45.5,275.3 46.0,274.4 46.5,275.2 47.0,275.6 47.5,275.8 48.0,276.6 48.5,276.4 49.0,276.6 49.5,276.2 50.0,276.9 50.5,276.7 51.0,276.7 51.5,277.9 52.0,278.1 52.5,278.0 53.0,278.1 53.5,277.7 54.0,277.8 54.5,278.3 55.0,277.8 55.5,278.4 56.0,278.1 56.5,278.6 57.0,278.4 57.5,279.3 58.0,279.5 58.5,279.2 59.0,278.7 59.5,278.8 60.0,279.2 60.5,279.0 61.0,279.4 61.5,279.8 62.0,279.7 62.5,279.6 63.0,279.9 63.5,279.7 64.0,280.0 64.5,279.9 65.0,280.4 65.5,280.1 66.0,279.7 66.5,279.9 67.0,279.8 67.5,279.7 68.0,279.9 68.5,280.3 69.0,279.6 69.5,280.0 70.0,280.1 70.5,280.2 71.0,280.6 71.5,280.1 72.0,280.5 72.5,280.4 73.0,280.5 73.5,280.4 74.0,280.4 74.5,280.3 75.0,280.6 75.5,281.2 76.0,281.2 76.5,281.1 77.0,281.0 77.5,280.7 78.0,280.9 78.5,281.4 79.0,280.6 79.5,280.9 80.0,281.1 80.5,281.0 81.0,281.1 81.5,281.3 82.0,281.7 82.5,281.6 83.0,281.6 83.5,281.2 84.0,281.2 84.5,281.0 85.0,281.0 85.5,280.7 86.0,280.9 86.5,281.3 87.0,281.0 87.5,280.9 88.0,281.0 88.5,280.9 89.0,281.1 89.5,281.0 90.0,280.5 90.5,280.3 91.0,280.8 91.5,280.9 92.0,281.2 92.5,281.0 93.0,280.9 93.5,280.3 94.0,280.9 94.5,280.5 95.0,280.9 95.5,280.4 96.0,280.4 96.5,280.6 97.0,280.5 97.5,280.3 98.0,280.8 98.5,280.9 99.0,280.8 99.5,280.6 100.0,280.3 100.5,280.3 101.0,280.3 101.5,280.4 102.0,280.7 102.5,280.5 103.0,280.2 103.5,280.1 104.0,280.7 104.5,280.5 105.0,280.5 105.5,280.5 106.0,280.6 106.5,280.4 107.0,280.7 107.5,280.7 108.0,279.6 108.5,279.9 109.0,280.9 109.5,280.1 110.0,280.1 110.5,280.4 111.0,280.2 111.5,280.5 112.0,279.9 112.5,279.6 113.0,279.7 113.5,279.7 114.0,279.5 114.5,279.9 115.0,280.0 115.5,280.0 116.0,279.8 116.5,280.0 117.0,279.9 117.5,279.7 118.0,280.0 118.5,280.0 119.0,280.0 119.5,280.1 120.0,279.7 120.5,279.7 121.0,279.6 121.5,280.1 122.0,280.1 122.5,280.6 123.0,280.6 123.5,280.1 124.0,279.6 124.5,279.8 125.0,279.7 125.5,279.7 126.0,279.4 126.5,279.8 127.0,279.8 127.5,279.9 128.0,279.9 128.5,279.5 129.0,279.0 129.5,279.3 130.0,279.3 130.5,279.3 131.0,279.8 131.5,279.6 132.0,280.0 132.5,279.8 133.0,279.8 133.5,279.8 134.0,279.8 134.5,279.2 135.0,279.6 135.5,279.5 136.0,279.1 136.5,279.3 137.0,279.4 137.5,279.6 138.0,279.6 138.5,279.4 139.0,278.7 139.5,279.4 140.0,279.6 140.5,279.5 141.0,279.3 141.5,279.4 142.0,278.9 142.5,279.0 143.0,278.9 143.5,278.5 144.0,278.7 144.5,278.8 145.0,279.2 145.5,279.2 146.0,278.4 146.5,277.9 147.0,278.2 147.5,278.3 148.0,278.1 148.5,277.8 149.0,278.1 149.5,277.9 150.0,277.9 150.5,278.4 151.0,278.4 151.5,278.1 152.0,277.8 152.5,277.9 153.0,278.5 153.5,278.1 154.0,278.6 154.5,278.0 155.0,277.9 155.5,278.1 156.0,277.8 156.5,277.8 157.0,277.4 157.5,277.8 158.0,278.1 158.5,277.6 159.0,277.7 159.5,277.5 160.0,276.8 160.5,278.0 161.0,277.9 161.5,277.8 162.0,277.7 162.5,277.5 163.0,278.0 163.5,277.0 164.0,277.0 164.5,276.9 165.0,276.9 165.5,277.1 166.0,276.8 166.5,276.4 167.0,276.3 167.5,276.7 168.0,276.9 168.5,277.0 169.0,276.8 169.3,275.8 169.5,276.2 170.0,276.8 170.5,276.5 171.0,276.2 171.5,276.6 172.0,276.2 172.5,276.1 173.0,275.9 173.5,276.5 174.0,276.3 174.5,276.0 175.0,275.9 175.5,275.9 176.0,275.9 176.5,275.3 177.0,275.2 177.5,275.7 178.0,276.0 178.5,275.5 179.0,275.6 179.5,275.4 180.0,274.7 180.5,275.0 181.0,274.9 181.5,275.4 182.0,275.2 182.5,275.2 183.0,274.7 183.5,275.0 184.0,274.4 184.5,274.8 185.0,275.3 185.5,274.7 186.0,275.0 186.5,275.3 187.0,274.9 187.5,275.1 188.0,274.9 188.5,274.6 189.0,274.0 189.5,274.0 190.0,273.8 190.5,274.9 191.0,274.7 191.5,274.5 192.0,274.0 192.5,274.7 193.0,274.1 193.5,274.6 194.0,274.6 194.5,274.3 195.0,273.9 195.5,273.9 196.0,273.4 196.5,273.7 197.0,274.1 197.5,273.9 198.0,273.8 198.5,273.2 199.0,273.1 199.5,272.6 200.0,272.5 200.5,272.7 201.0,273.2 201.5,272.7 202.0,272.3 202.5,271.4 203.0,271.6 203.5,271.2 204.0,270.8 204.5,270.4 205.0,270.6 205.5,270.3 206.0,270.3 206.5,269.8 207.0,269.4 207.5,269.2 208.0,268.5 208.5,267.6 209.0,266.5 209.5,264.6 210.0,257.2 210.5,226.5 210.6,224.4 211.0,245.7 211.5,263.0 212.0,265.2 212.5,266.7 213.0,267.3 213.5,268.1 214.0,269.0 214.5,269.2 215.0,269.7 215.5,269.7 216.0,269.5 216.5,269.7 217.0,269.4 217.5,270.0 218.0,270.0 218.5,270.6 219.0,270.1 219.5,270.3 220.0,270.5 220.5,270.5 221.0,270.6 221.5,270.4 222.0,270.1 222.5,270.0 223.0,270.1 223.5,270.1 224.0,270.5 224.5,270.4 225.0,270.3 225.5,270.3 226.0,269.9 226.5,270.2 227.0,270.6 227.5,270.2 228.0,270.4 228.5,270.7 229.0,270.5 229.5,270.6 230.0,270.5 230.5,271.3 231.0,271.4 231.5,271.4 232.0,270.8 232.5,270.9 233.0,270.7 233.5,270.8 234.0,270.6 234.5,270.7 235.0,270.4 235.5,270.6 236.0,271.2 236.5,270.5 237.0,270.2 237.5,270.6 238.0,270.9 238.5,270.6 239.0,270.8 239.5,270.8 240.0,270.9 240.5,271.2 241.0,270.7 241.5,270.8 242.0,270.8 242.5,270.5 243.0,270.7 243.5,270.2 244.0,269.9 244.5,270.6 245.0,270.2 245.5,270.8 246.0,270.9 246.5,270.4 247.0,270.1 247.5,269.5 248.0,269.8 248.5,269.4 249.0,270.1 249.5,269.3 250.0,269.3 250.5,268.2 251.0,268.2 251.5,268.4 252.0,267.4 252.5,262.4 252.9,257.4 253.0,258.0 253.5,265.1 254.0,266.6 254.5,265.9 255.0,266.3 255.5,266.6 256.0,267.0 256.5,266.4 257.0,266.0 257.5,265.4 258.0,265.4 258.5,265.5 259.0,264.5 259.5,264.1 260.0,263.3 260.5,262.7 261.0,262.2 261.5,261.8 262.0,260.7 262.5,259.9 263.0,259.5 263.5,258.3 264.0,257.0 264.5,249.6 265.0,192.3 265.5,118.0 265.6,115.2 266.0,155.6 266.5,235.6 267.0,255.1 267.5,257.2 268.0,258.2 268.5,259.4 269.0,260.1 269.5,260.8 270.0,261.4 270.5,262.9 271.0,263.6 271.5,264.1 272.0,264.6 272.5,264.3 273.0,262.1 273.4,259.5 273.5,259.4 274.0,264.3 274.5,266.1 275.0,267.3 275.5,267.5 276.0,267.8 276.5,268.6 277.0,268.8 277.5,268.6 278.0,269.0 278.5,269.0 279.0,269.9 279.5,269.5 280.0,269.5 280.5,268.9 281.0,269.3 281.5,270.3 282.0,270.2 282.5,269.9 283.0,270.2 283.5,270.2 284.0,270.3 284.5,271.1 285.0,271.4 285.5,271.4 286.0,271.5 286.5,270.7 287.0,270.1 287.5,270.7 288.0,270.9 288.5,270.9 289.0,270.9 289.5,271.1 290.0,271.2 290.5,271.1 291.0,271.2 291.5,270.9 292.0,270.8 292.5,271.2 293.0,270.9 293.5,271.5 294.0,271.3 294.5,271.0 295.0,271.2 295.5,270.7 296.0,270.6 296.5,270.5 297.0,270.6 297.5,270.8 298.0,271.3 298.5,271.0 299.0,270.4 299.5,270.1 300.0,269.7 300.5,270.3 301.0,270.5 301.5,270.4 302.0,270.3 302.5,270.3 303.0,270.2 303.5,270.2 304.0,270.0 304.5,269.5 305.0,269.9 305.5,270.1 306.0,269.2 306.5,269.2 307.0,268.9 307.5,269.2 308.0,269.1 308.5,269.5 309.0,269.5 309.5,269.1 310.0,268.8 310.5,268.7 311.0,269.0 311.5,268.7 312.0,269.0 312.5,268.6 313.0,269.2 313.5,269.3 314.0,268.9 314.5,268.8 315.0,269.1 315.5,269.3 316.0,268.5 316.5,269.0 317.0,269.7 317.5,269.5 318.0,269.1 318.5,269.7 319.0,269.7 319.5,269.7 320.0,269.9 320.5,269.4 321.0,269.4 321.5,269.2 322.0,269.2 322.5,269.4 323.0,269.3 323.5,270.1 324.0,270.1 324.5,270.3 325.0,269.6 325.5,269.7 326.0,269.8 326.5,270.0 327.0,270.1 327.5,269.8 328.0,269.7 328.5,270.2 329.0,270.9 329.5,271.1 330.0,270.5 330.5,270.1 331.0,270.3 331.5,270.5 332.0,271.0 332.5,270.7 333.0,270.4 333.5,270.9 334.0,270.5 334.5,270.3 335.0,270.7 335.5,270.5 336.0,270.2 336.5,270.2 337.0,270.1 337.5,270.0 338.0,269.8 338.5,270.0 339.0,269.7 339.5,269.4 340.0,269.7 340.5,269.1 341.0,269.2 341.5,269.1 342.0,268.6 342.5,268.4 343.0,267.7 343.5,267.8 344.0,267.3 344.5,267.1 345.0,267.3 345.5,267.1 346.0,267.2 346.5,267.4 347.0,267.7 347.5,267.6 348.0,267.8 348.5,267.4 349.0,267.3 349.5,267.5 350.0,267.7 350.5,267.5 351.0,267.1 351.5,266.6 352.0,266.2 352.5,266.5 353.0,265.8 353.5,265.4 354.0,265.3 354.5,264.9 355.0,264.0 355.5,264.2 356.0,263.3 356.5,262.5 357.0,261.8 357.5,260.4 358.0,259.3 358.5,257.6 359.0,251.8 359.5,226.9 359.8,217.9 360.0,222.3 360.5,248.1 361.0,255.9 361.5,257.2 362.0,258.5 362.5,259.5 363.0,259.8 363.5,260.3 364.0,260.1 364.5,260.3 365.0,260.7 365.5,260.9 366.0,261.5 366.5,261.1 367.0,261.7 367.5,262.1 368.0,262.8 368.5,262.4 369.0,262.6 369.5,263.1 370.0,263.3 370.5,262.8 371.0,261.6 371.5,260.1 372.0,262.2 372.5,264.2 373.0,265.1 373.5,265.3 374.0,265.7 374.5,266.0 375.0,265.7 375.5,266.1 376.0,266.4 376.5,266.3 377.0,266.1 377.5,266.4 378.0,266.6 378.5,266.8 379.0,266.2 379.5,266.4 380.0,267.2 380.5,267.3 381.0,266.9 381.5,266.6 382.0,266.5 382.5,266.1 383.0,265.9 383.5,265.7 384.0,265.0 384.5,264.6 385.0,264.1 385.5,262.8 386.0,261.7 386.5,255.6 387.0,233.5 387.3,225.9 387.5,229.5 388.0,253.0 388.5,261.7 389.0,263.3 389.5,263.7 390.0,264.5 390.5,264.7 391.0,264.8 391.5,265.8 392.0,266.1 392.5,266.2 393.0,265.8 393.5,264.8 394.0,264.1 394.5,259.3 395.0,242.0 395.3,234.9 395.5,238.3 396.0,256.8 396.5,264.0 397.0,265.5 397.5,265.9 398.0,266.9 398.5,267.6 399.0,267.3 399.5,268.3 400.0,268.0 400.5,268.0 401.0,268.7 401.5,268.7 402.0,269.0 402.5,269.2 403.0,269.0 403.5,269.8 404.0,270.2 404.5,270.0 405.0,270.4 405.5,270.1 406.0,270.1 406.5,270.0 407.0,269.7 407.5,269.9 408.0,269.8 408.5,270.2 409.0,270.2 409.5,269.9 410.0,270.3 410.5,270.0 411.0,270.1 411.5,269.2 412.0,268.5 412.5,267.7 413.0,267.1 413.5,266.2 414.0,265.1 414.5,264.0 415.0,254.1 415.5,230.8 415.7,227.4 416.0,234.6 416.5,256.9 417.0,263.7 417.5,265.0 418.0,266.2 418.5,267.2 419.0,267.6 419.5,267.8 420.0,268.3 420.5,268.6 421.0,268.9 421.5,268.8 422.0,269.2 422.5,269.0 423.0,269.8 423.5,270.1 424.0,270.3 424.5,270.0 425.0,270.2 425.5,270.6 426.0,270.4 426.5,270.1 427.0,270.2 427.5,269.7 428.0,270.4 428.5,270.6 429.0,270.2 429.5,270.6 430.0,270.9 430.5,270.8 431.0,270.7 431.5,270.9 432.0,270.5 432.5,270.6 433.0,270.1 433.5,269.7 434.0,269.5 434.5,269.2 435.0,269.4 435.5,269.0 436.0,269.1 436.5,269.1 437.0,269.4 437.5,269.5 438.0,268.7 438.5,268.4 439.0,268.1 439.5,267.8 440.0,268.2 440.5,268.0 441.0,267.3 441.5,266.5 442.0,266.1 442.5,265.9 443.0,266.0 443.5,265.0 444.0,265.1 444.5,264.0 445.0,263.7 445.5,262.7 446.0,262.0 446.5,257.9 447.0,245.7 447.5,235.8 448.0,245.7 448.5,258.1 449.0,262.3 449.5,263.4 450.0,263.8 450.5,264.8 451.0,265.5 451.5,265.7 452.0,266.2 452.5,266.1 453.0,267.3 453.5,268.0 454.0,268.2 454.5,268.1 455.0,268.2 455.5,268.7 456.0,268.8 456.5,269.3 457.0,269.3 457.5,269.8 458.0,270.3 458.5,270.0 459.0,269.9 459.5,269.3 460.0,270.0 460.5,270.4 461.0,270.3 461.5,270.9 462.0,270.7 462.5,270.5 463.0,271.1 463.5,271.3 464.0,270.6 464.5,270.7 465.0,270.6 465.5,270.8 466.0,271.0 466.5,270.9 467.0,270.9 467.5,271.1 468.0,270.7 468.5,270.0 469.0,268.2 469.5,267.1 470.0,269.1 470.5,270.3 471.0,270.6 471.5,270.3 472.0,270.3 472.5,270.8 473.0,270.7 473.5,270.9 474.0,271.1 474.5,271.5 475.0,271.5 475.5,271.5 476.0,271.4 476.5,271.4 477.0,271.8 477.5,272.3 478.0,271.4 478.5,271.7 479.0,271.1 479.5,270.9 480.0,270.8 480.5,270.7 481.0,270.5 481.5,270.2 482.0,270.5 482.5,269.5 483.0,269.0 483.5,268.5 484.0,268.1 484.5,267.1 485.0,266.7 485.5,266.1 486.0,265.8 486.5,264.8 487.0,263.4 487.5,262.1 488.0,259.6 488.5,242.7 489.0,215.4 489.2,211.7 489.5,219.4 490.0,247.7 490.5,259.8 491.0,262.0 491.5,263.3 492.0,264.1 492.5,265.2 493.0,265.1 493.5,265.2 494.0,266.8 494.5,268.7 495.0,269.7 495.5,269.5 496.0,269.6 496.5,269.8 497.0,270.6 497.5,271.1 498.0,271.3 498.5,271.5 499.0,272.2 499.5,272.4 500.0,272.3 500.5,272.4 501.0,271.8 501.5,272.4 502.0,272.9 502.5,272.5 503.0,272.1 503.5,272.4 504.0,272.1 504.5,272.0 505.0,272.2 505.5,272.0 506.0,272.2 506.5,271.5 507.0,271.0 507.5,271.7 508.0,272.0 508.5,272.0 509.0,271.8 509.5,271.8 510.0,272.0 510.5,271.5 511.0,271.8 511.5,271.5 512.0,272.3 512.5,272.1 513.0,272.0 513.5,272.1 514.0,272.1 514.5,272.1 515.0,271.6 515.5,271.6 516.0,271.7 516.5,271.6 517.0,271.4 517.5,271.1 518.0,271.1 518.5,271.4 519.0,270.7 519.5,270.2 520.0,270.0 520.5,269.7 521.0,270.3 521.5,270.6 522.0,270.2 522.5,269.8 523.0,269.9 523.5,269.6 524.0,268.3 524.5,268.2 525.0,268.6 525.5,267.7 526.0,267.1 526.5,266.6 527.0,267.0 527.5,266.4 528.0,266.1 528.5,265.3 529.0,264.2 529.5,264.8 530.0,265.2 530.5,265.0 531.0,265.2 531.5,264.2 532.0,264.1 532.5,262.4 533.0,255.1 533.5,242.8 533.8,239.5 534.0,240.9 534.5,252.1 535.0,260.8 535.5,263.2 536.0,263.6 536.5,264.2 537.0,263.8 537.5,263.3 538.0,261.4 538.5,259.3 539.0,262.3 539.5,265.0 540.0,266.2 540.5,266.8 541.0,267.4 541.5,268.2 542.0,268.2 542.5,268.6 543.0,268.6 543.5,268.9 544.0,269.3 544.5,269.5 545.0,269.9 545.5,269.4 546.0,269.8 546.5,269.8 547.0,269.5 547.5,269.9 548.0,269.4 548.5,269.3 549.0,269.4 549.5,269.7 550.0,269.0 550.5,268.7 551.0,267.9 551.5,267.7 552.0,268.3 552.5,268.1 553.0,267.6 553.5,267.4 554.0,267.7 554.5,267.4 555.0,267.0 555.5,266.8 556.0,265.5 556.5,265.3 557.0,266.2 557.5,266.3 558.0,266.4 558.5,266.4 559.0,266.6 559.5,266.6 560.0,266.9 560.5,266.8 561.0,267.2 561.5,267.5 562.0,267.7 562.5,267.6 563.0,268.0 563.5,267.6 564.0,267.7 564.5,268.0 565.0,268.5 565.5,268.3 566.0,268.5 566.5,268.8 567.0,269.0 567.5,269.1 568.0,268.3 568.5,268.2 569.0,268.2 569.5,268.2 570.0,268.0 570.5,267.7 571.0,267.5 571.5,266.9 572.0,267.1 572.5,266.9 573.0,266.5 573.5,266.8 574.0,266.2 574.5,265.6 575.0,265.4 575.5,265.0 576.0,264.6 576.5,263.8 577.0,263.3 577.5,262.5 578.0,262.1 578.5,261.1 579.0,259.8 579.5,258.6 580.0,257.9 580.5,255.4 581.0,244.1 581.5,223.8 582.0,212.0 582.5,223.7 583.0,243.8 583.5,253.8 584.0,256.4 584.5,257.1 585.0,257.9 585.5,258.8 586.0,259.4 586.5,260.6 587.0,260.5 587.5,260.9 588.0,261.5 588.5,262.1 589.0,262.2 589.5,262.2 590.0,262.9 590.5,263.4 591.0,263.9 591.5,264.2 592.0,263.9 592.5,264.6 593.0,264.7 593.5,265.5 594.0,265.2 594.5,264.7 595.0,265.2 595.5,265.6 596.0,266.0 596.5,266.2 597.0,266.2 597.5,266.0 598.0,266.4 598.5,266.7 599.0,266.8 599.5,267.1 600.0,267.2 600.5,266.8 601.0,266.9 601.5,267.0 602.0,267.2 602.5,267.9 603.0,267.7 603.5,267.8 604.0,267.0 604.5,267.7 605.0,267.4 605.5,267.7 606.0,267.3 606.5,267.4 607.0,267.7 607.5,267.6 608.0,267.4 608.5,266.5 609.0,266.0 609.5,266.7 610.0,267.3 610.5,267.6 611.0,267.5 611.5,267.5 612.0,267.9 612.5,268.2 613.0,267.8 613.5,267.5 614.0,267.6 614.5,267.8 615.0,267.7 615.5,267.8 616.0,267.4 616.5,266.8 617.0,266.0 617.5,266.2 618.0,265.9 618.5,265.1 619.0,264.4 619.5,261.5 620.0,255.9 620.5,252.0 621.0,255.9 621.5,261.2 622.0,263.8 622.5,264.2 623.0,264.7 623.5,264.0 624.0,264.6 624.5,265.1 625.0,264.9 625.5,265.4 626.0,265.4 626.5,265.9 627.0,265.6 627.5,265.6 628.0,265.3 628.5,266.0 629.0,265.4 629.5,265.0 630.0,264.7 630.5,264.7 631.0,264.5 631.5,264.4 632.0,264.3 632.5,263.7 633.0,262.4 633.5,261.8 634.0,260.9 634.5,260.3 635.0,259.3 635.5,258.8 636.0,257.9 636.5,257.8 637.0,256.7 637.5,256.8 638.0,256.8 638.5,256.4 639.0,256.0 639.5,256.1 640.0,256.4 640.5,256.9 641.0,256.2 641.5,256.1 642.0,255.7 642.5,256.1 643.0,256.0 643.5,255.9 644.0,256.0 644.5,256.0 645.0,256.3 645.5,256.0 646.0,255.8 646.5,256.0 647.0,256.1 647.5,256.6 648.0,256.4 648.5,256.3 649.0,256.3 649.5,256.3 650.0,255.9 650.5,256.4 651.0,256.5 651.5,256.1 652.0,255.3 652.5,254.9 653.0,254.1 653.5,253.0 654.0,251.6 654.5,248.5 655.0,240.5 655.5,229.2 655.8,225.8 656.0,226.6 656.5,235.4 657.0,243.2 657.5,244.3 658.0,244.6 658.5,244.3 659.0,243.0 659.5,237.7 660.0,225.5 660.5,218.6 661.0,224.9 661.5,231.7 662.0,227.7 662.3,225.8 662.5,228.1 663.0,239.7 663.5,248.9 664.0,252.4 664.5,254.4 665.0,256.9 665.5,259.0 666.0,261.0 666.5,262.2 667.0,262.8 667.5,262.9 668.0,263.2 668.5,264.0 669.0,264.5 669.5,264.5 670.0,265.3 670.5,265.4 671.0,265.8 671.5,265.9 672.0,266.5 672.5,266.9 673.0,267.2 673.5,266.9 674.0,267.2 674.5,268.0 675.0,267.8 675.5,268.0 676.0,268.0 676.5,267.9 677.0,268.5 677.5,268.8 678.0,268.4" fill="none" stroke="#d81e2c" stroke-width="1.1" stroke-linejoin="round"/>
<line x1="265.7" y1="39" x2="265.7" y2="112" stroke="rgba(215,40,110,0.4)" stroke-width="1.6"/>
</g>
<line x1="96.3" y1="247.9" x2="96.3" y2="252.9" stroke="rgba(215,175,30,0.9)" stroke-width="1.2"/>
<line x1="180.5" y1="247" x2="180.5" y2="250.6" stroke="rgba(215,175,30,0.9)" stroke-width="1.2"/>
<line x1="200.4" y1="237" x2="200.4" y2="248.2" stroke="rgba(215,175,30,0.9)" stroke-width="1.2"/>
<line x1="230.3" y1="240" x2="230.3" y2="246.5" stroke="rgba(215,175,30,0.9)" stroke-width="1.2"/>
<line x1="238.0" y1="241.3" x2="238.0" y2="246.6" stroke="rgba(215,175,30,0.9)" stroke-width="1.2"/>
<line x1="254.5" y1="237.9" x2="254.5" y2="246" stroke="rgba(215,175,30,0.9)" stroke-width="1.2"/>
<line x1="276.0" y1="237.3" x2="276.0" y2="246" stroke="rgba(215,175,30,0.9)" stroke-width="1.2"/>
<line x1="293.7" y1="239" x2="293.7" y2="246" stroke="rgba(215,175,30,0.9)" stroke-width="1.2"/>
<line x1="308.3" y1="238" x2="308.3" y2="245" stroke="rgba(215,175,30,0.9)" stroke-width="1.2"/>
<line x1="315.7" y1="240" x2="315.7" y2="246" stroke="rgba(215,175,30,0.9)" stroke-width="1.2"/>
<line x1="324.5" y1="244" x2="324.5" y2="246" stroke="rgba(215,175,30,0.9)" stroke-width="1.2"/>
<line x1="343.4" y1="225.5" x2="343.4" y2="245" stroke="rgba(215,175,30,0.9)" stroke-width="1.2"/>
<line x1="357.6" y1="237" x2="357.6" y2="244" stroke="rgba(215,175,30,0.9)" stroke-width="1.2"/>
<line x1="371.4" y1="235.5" x2="371.4" y2="244.5" stroke="rgba(215,175,30,0.9)" stroke-width="1.2"/>
<line x1="378.9" y1="242.8" x2="378.9" y2="244.5" stroke="rgba(215,175,30,0.9)" stroke-width="1.2"/>
<line x1="401.4" y1="241" x2="401.4" y2="246" stroke="rgba(215,175,30,0.9)" stroke-width="1.2"/>
<line x1="427.7" y1="243" x2="427.7" y2="246" stroke="rgba(215,175,30,0.9)" stroke-width="1.2"/>
<line x1="442.6" y1="231.6" x2="442.6" y2="242.5" stroke="rgba(215,175,30,0.9)" stroke-width="1.2"/>
<line x1="449.9" y1="237" x2="449.9" y2="245" stroke="rgba(215,175,30,0.9)" stroke-width="1.2"/>
<line x1="482.9" y1="244" x2="482.9" y2="248" stroke="rgba(215,175,30,0.9)" stroke-width="1.2"/>
<line x1="511.4" y1="244" x2="511.4" y2="248" stroke="rgba(215,175,30,0.9)" stroke-width="1.2"/>
<line x1="527.5" y1="243" x2="527.5" y2="246" stroke="rgba(215,175,30,0.9)" stroke-width="1.2"/>
<line x1="541.4" y1="226.4" x2="541.4" y2="245" stroke="rgba(215,175,30,0.9)" stroke-width="1.2"/>
<line x1="559.5" y1="242" x2="559.5" y2="245" stroke="rgba(215,175,30,0.9)" stroke-width="1.2"/>
<line x1="574.4" y1="241" x2="574.4" y2="244" stroke="rgba(215,175,30,0.9)" stroke-width="1.2"/>
<line x1="586.8" y1="240" x2="586.8" y2="243" stroke="rgba(215,175,30,0.9)" stroke-width="1.2"/>
<line x1="599.8" y1="217" x2="599.8" y2="243" stroke="rgba(215,175,30,0.9)" stroke-width="1.2"/>
<line x1="673.7" y1="228.4" x2="673.7" y2="244" stroke="rgba(215,175,30,0.9)" stroke-width="1.2"/>
<line x1="273.3" y1="278" x2="273.3" y2="291" stroke="rgba(30,220,30,0.95)" stroke-width="1.2"/>
<line x1="354.6" y1="286" x2="354.6" y2="289" stroke="rgba(30,220,30,0.95)" stroke-width="1.2"/>
<line x1="384.4" y1="284" x2="384.4" y2="289" stroke="rgba(30,220,30,0.95)" stroke-width="1.2"/>
<line x1="551.0" y1="287" x2="551.0" y2="291" stroke="rgba(30,220,30,0.95)" stroke-width="1.2"/>
<line x1="252.5" y1="273" x2="252.5" y2="291" stroke="rgba(20,20,230,0.9)" stroke-width="1.2"/>
<line x1="363.4" y1="285" x2="363.4" y2="289" stroke="rgba(20,20,230,0.9)" stroke-width="1.2"/>
<line x1="371.1" y1="277" x2="371.1" y2="289" stroke="rgba(20,20,230,0.9)" stroke-width="1.2"/>
<line x1="378.0" y1="285" x2="378.0" y2="289" stroke="rgba(20,20,230,0.9)" stroke-width="1.2"/>
<line x1="468.5" y1="280.8" x2="468.5" y2="294.5" stroke="rgba(20,20,230,0.9)" stroke-width="1.2"/>
<line x1="524.3" y1="284" x2="524.3" y2="291" stroke="rgba(20,20,230,0.9)" stroke-width="1.2"/>
<line x1="535.5" y1="284" x2="535.5" y2="292" stroke="rgba(20,20,230,0.9)" stroke-width="1.2"/>
<line x1="608.0" y1="281" x2="608.0" y2="288" stroke="rgba(20,20,230,0.9)" stroke-width="1.2"/>
<line x1="665.8" y1="282" x2="665.8" y2="287" stroke="rgba(20,20,230,0.9)" stroke-width="1.2"/>
<line x1="258.6" y1="280.4" x2="258.6" y2="290.6" stroke="rgba(128,10,20,0.75)" stroke-width="1.5"/>
<line x1="261.5" y1="280" x2="261.5" y2="290.6" stroke="rgba(128,10,20,0.75)" stroke-width="1.5"/>
<line x1="328.0" y1="285.4" x2="328.0" y2="290" stroke="rgba(128,10,20,0.75)" stroke-width="1.5"/>
<line x1="347.0" y1="283" x2="347.0" y2="290" stroke="rgba(128,10,20,0.75)" stroke-width="1.5"/>
<line x1="400.3" y1="283" x2="400.3" y2="291" stroke="rgba(128,10,20,0.75)" stroke-width="1.5"/>
<line x1="492.8" y1="277.1" x2="492.8" y2="295.4" stroke="rgba(128,10,20,0.75)" stroke-width="1.5"/>
<line x1="538.0" y1="276" x2="538.0" y2="281" stroke="rgba(128,10,20,0.75)" stroke-width="1.5"/>
<line x1="558.7" y1="285" x2="558.7" y2="289" stroke="rgba(128,10,20,0.75)" stroke-width="1.5"/>
<line x1="567.4" y1="285" x2="567.4" y2="289" stroke="rgba(128,10,20,0.75)" stroke-width="1.5"/>
<line x1="589.3" y1="279" x2="589.3" y2="287" stroke="rgba(128,10,20,0.75)" stroke-width="1.5"/>
<line x1="626.0" y1="281" x2="626.0" y2="287" stroke="rgba(128,10,20,0.75)" stroke-width="1.5"/>
<line x1="636.9" y1="266" x2="636.9" y2="285" stroke="rgba(128,10,20,0.75)" stroke-width="1.5"/>
<line x1="644.7" y1="282" x2="644.7" y2="285" stroke="rgba(128,10,20,0.75)" stroke-width="1.5"/>
<line x1="655.2" y1="210" x2="655.2" y2="285" stroke="rgba(128,10,20,0.75)" stroke-width="1.5"/>
<line x1="582.4" y1="193" x2="582.4" y2="215" stroke="rgba(128,10,20,0.75)" stroke-width="1.5"/>
<line x1="168.0" y1="298.6" x2="168.0" y2="304.2" stroke="rgba(225,40,55,0.85)" stroke-width="1.2"/>
<line x1="366.8" y1="281" x2="366.8" y2="289" stroke="rgba(235,30,100,0.7)" stroke-width="2"/>
<text font-family="Liberation Sans, sans-serif" font-size="10" fill="#ff1a1a" stroke="#ff1a1a" stroke-width="0.15" x="258.82" y="14.30" textLength="12.78" lengthAdjust="spacingAndGlyphs">Qz</text>
<text font-family="Liberation Sans, sans-serif" font-size="10" fill="#ff1a1a" stroke="#ff1a1a" stroke-width="0.15" x="203.82" y="177.10" textLength="12.78" lengthAdjust="spacingAndGlyphs">Qz</text>
<text font-family="Liberation Sans, sans-serif" font-size="10" fill="#ff1a1a" stroke="#ff1a1a" stroke-width="0.15" x="352.32" y="211.20" textLength="12.78" lengthAdjust="spacingAndGlyphs">Qz</text>
<text font-family="Liberation Sans, sans-serif" font-size="10" fill="#ff1a1a" stroke="#ff1a1a" stroke-width="0.15" x="379.22" y="216.90" textLength="12.78" lengthAdjust="spacingAndGlyphs">Qz</text>
<text font-family="Liberation Sans, sans-serif" font-size="10" fill="#ff1a1a" stroke="#ff1a1a" stroke-width="0.15" x="390.12" y="229.70" textLength="12.78" lengthAdjust="spacingAndGlyphs">Qz</text>
<text font-family="Liberation Sans, sans-serif" font-size="10" fill="#ff1a1a" stroke="#ff1a1a" stroke-width="0.15" x="408.52" y="221.70" textLength="12.78" lengthAdjust="spacingAndGlyphs">Qz</text>
<text font-family="Liberation Sans, sans-serif" font-size="10" fill="#ff1a1a" stroke="#ff1a1a" stroke-width="0.15" x="441.12" y="226.40" textLength="12.78" lengthAdjust="spacingAndGlyphs">Qz</text>
<text font-family="Liberation Sans, sans-serif" font-size="10" fill="#ff1a1a" stroke="#ff1a1a" stroke-width="0.15" x="482.12" y="177.90" textLength="12.78" lengthAdjust="spacingAndGlyphs">Qz</text>
<text font-family="Liberation Sans, sans-serif" font-size="10" fill="#ff1a1a" stroke="#ff1a1a" stroke-width="0.15" x="526.72" y="224.20" textLength="12.78" lengthAdjust="spacingAndGlyphs">Qz</text>
<text font-family="Liberation Sans, sans-serif" font-size="10" fill="#ff1a1a" stroke="#ff1a1a" stroke-width="0.15" x="614.52" y="233.90" textLength="12.78" lengthAdjust="spacingAndGlyphs">Qz</text>
<text font-family="Liberation Sans, sans-serif" font-size="10" fill="#ff1a1a" stroke="#ff1a1a" stroke-width="0.15" x="654.82" y="193.90" textLength="12.78" lengthAdjust="spacingAndGlyphs">Qz</text>
<text font-family="Liberation Sans, sans-serif" font-size="10" fill="#1818ee" stroke="#1818ee" stroke-width="0.15" x="249.56" y="232.90" textLength="6.67" lengthAdjust="spacingAndGlyphs">A</text>
<text font-family="Liberation Sans, sans-serif" font-size="10" fill="#1818ee" stroke="#1818ee" stroke-width="0.15" x="369.06" y="260.00" textLength="6.67" lengthAdjust="spacingAndGlyphs">A</text>
<text font-family="Liberation Sans, sans-serif" font-size="10" fill="#1818ee" stroke="#1818ee" stroke-width="0.15" x="465.67" y="242.10" textLength="6.67" lengthAdjust="spacingAndGlyphs">A</text>
<text font-family="Liberation Sans, sans-serif" font-size="10" fill="#1818ee" stroke="#1818ee" stroke-width="0.15" x="520.06" y="244.00" textLength="6.67" lengthAdjust="spacingAndGlyphs">A</text>
<text font-family="Liberation Sans, sans-serif" font-size="10" fill="#1818ee" stroke="#1818ee" stroke-width="0.15" x="605.66" y="240.30" textLength="6.67" lengthAdjust="spacingAndGlyphs">A</text>
<text font-family="Liberation Sans, sans-serif" font-size="10" fill="#22e022" stroke="#22e022" stroke-width="0.15" x="269.43" y="235.20" textLength="10.00" lengthAdjust="spacingAndGlyphs">Rt</text>
<text font-family="Liberation Sans, sans-serif" font-size="10" fill="#22e022" stroke="#22e022" stroke-width="0.15" x="345.73" y="239.20" textLength="10.00" lengthAdjust="spacingAndGlyphs">Rt</text>
<text font-family="Liberation Sans, sans-serif" font-size="10" fill="#22e022" stroke="#22e022" stroke-width="0.15" x="521.03" y="264.10" textLength="10.00" lengthAdjust="spacingAndGlyphs">Rt</text>
<text font-family="Liberation Sans, sans-serif" font-size="10" fill="#22e022" stroke="#22e022" stroke-width="0.15" x="545.33" y="242.70" textLength="10.00" lengthAdjust="spacingAndGlyphs">Rt</text>
<text font-family="Liberation Sans, sans-serif" font-size="10" fill="#ea2a6a" stroke="#ea2a6a" stroke-width="0.15" x="364.98" y="238.50" textLength="5.56" lengthAdjust="spacingAndGlyphs">L</text>
<text font-family="Liberation Sans, sans-serif" font-size="10" fill="#a02832" stroke="#a02832" stroke-width="0.15" x="254.84" y="261.90" textLength="8.33" lengthAdjust="spacingAndGlyphs">M</text>
<text font-family="Liberation Sans, sans-serif" font-size="10" fill="#a02832" stroke="#a02832" stroke-width="0.15" x="343.44" y="265.40" textLength="8.33" lengthAdjust="spacingAndGlyphs">M</text>
<text font-family="Liberation Sans, sans-serif" font-size="10" fill="#a02832" stroke="#a02832" stroke-width="0.15" x="492.13" y="266.30" textLength="8.33" lengthAdjust="spacingAndGlyphs">M</text>
<text font-family="Liberation Sans, sans-serif" font-size="10" fill="#a02832" stroke="#a02832" stroke-width="0.15" x="634.23" y="233.00" textLength="8.33" lengthAdjust="spacingAndGlyphs">M</text>
<text font-family="Liberation Sans, sans-serif" font-size="10" fill="#cdb030" stroke="#cdb030" stroke-width="0.15" x="172.97" y="246.30" textLength="13.89" lengthAdjust="spacingAndGlyphs">Mu</text>
<text font-family="Liberation Sans, sans-serif" font-size="10" fill="#cdb030" stroke="#cdb030" stroke-width="0.15" x="193.38" y="235.90" textLength="13.89" lengthAdjust="spacingAndGlyphs">Mu</text>
<text font-family="Liberation Sans, sans-serif" font-size="10" fill="#cdb030" stroke="#cdb030" stroke-width="0.15" x="223.47" y="239.60" textLength="13.89" lengthAdjust="spacingAndGlyphs">Mu</text>
<text font-family="Liberation Sans, sans-serif" font-size="10" fill="#cdb030" stroke="#cdb030" stroke-width="0.15" x="336.58" y="224.40" textLength="13.89" lengthAdjust="spacingAndGlyphs">Mu</text>
<text font-family="Liberation Sans, sans-serif" font-size="10" fill="#cdb030" stroke="#cdb030" stroke-width="0.15" x="429.48" y="232.00" textLength="13.89" lengthAdjust="spacingAndGlyphs">Mu</text>
<text font-family="Liberation Sans, sans-serif" font-size="9.4" fill="#6a5cc4" stroke="#6a5cc4" stroke-width="0.12" x="38.75" y="240.80" textLength="40.71" lengthAdjust="spacingAndGlyphs">OHEY 19</text>
<text font-family="Liberation Sans, sans-serif" font-size="9.4" fill="#e2204a" stroke="#e2204a" stroke-width="0.12" x="38.75" y="269.80" textLength="40.65" lengthAdjust="spacingAndGlyphs">OHEY 05</text>
<text font-family="Liberation Sans, sans-serif" font-size="9.4" fill="#111111" stroke="#111111" stroke-width="0.12" x="43.16" y="297.20" textLength="39.24" lengthAdjust="spacingAndGlyphs">OHEY 03</text>
</svg></body></html>
